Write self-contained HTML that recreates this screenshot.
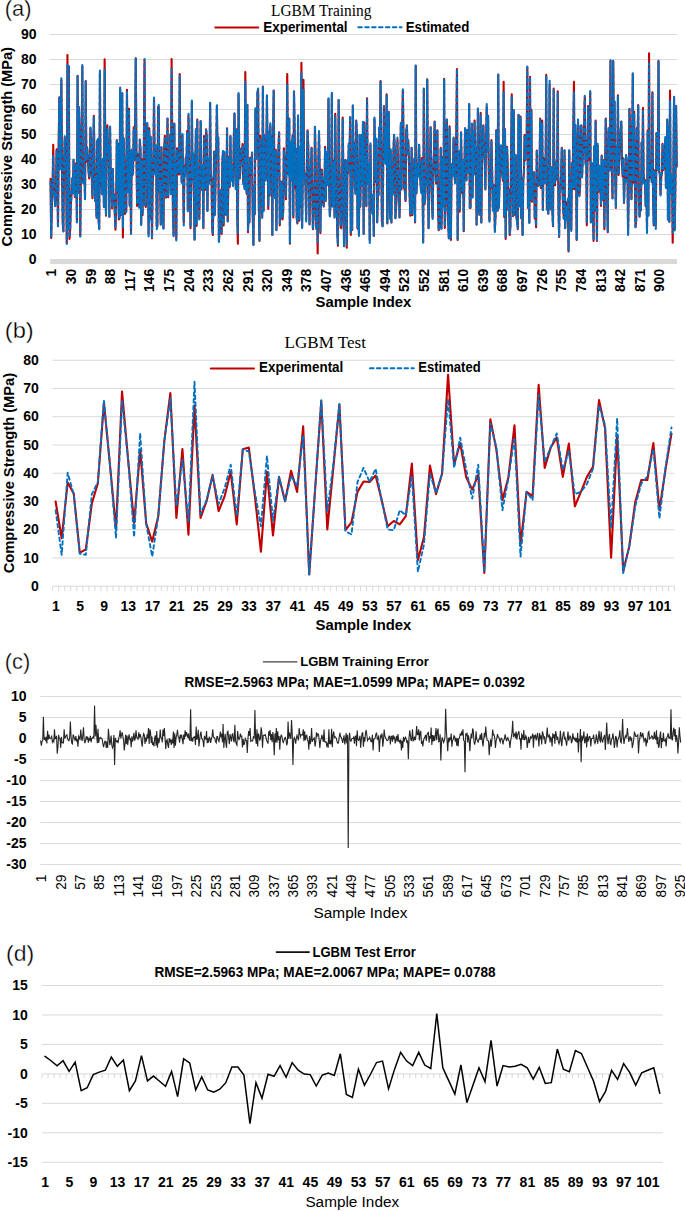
<!DOCTYPE html>
<html><head><meta charset="utf-8"><title>LGBM</title>
<style>html,body{margin:0;padding:0;background:#fff;width:685px;height:1211px;overflow:hidden}svg{display:block}</style>
</head><body>
<svg width="685" height="1211" viewBox="0 0 685 1211">
<rect width="685" height="1211" fill="#fff"/>
<text x="4.80" y="15.70" font-family="'Liberation Sans', sans-serif" font-size="22" textLength="26.60" lengthAdjust="spacingAndGlyphs" fill="#000" stroke="#fff" stroke-width="0.3">(a)</text>
<text x="271.00" y="15.90" font-family="'Liberation Serif', serif" font-size="16.0" textLength="100.40" lengthAdjust="spacingAndGlyphs" fill="#000">LGBM Training</text>
<path d="M215.30 27.40 L258.20 27.40" fill="none" stroke="#C00000" stroke-width="2" stroke-linecap="round" stroke-linejoin="round"/>
<text x="263.30" y="31.70" font-family="'Liberation Sans', sans-serif" font-size="14" font-weight="bold" textLength="84.30" lengthAdjust="spacingAndGlyphs" fill="#000">Experimental</text>
<path d="M358.30 27.30 L401.60 27.30" fill="none" stroke="#0070C0" stroke-width="1.9" stroke-linecap="round" stroke-linejoin="round" stroke-dasharray="3.6 3.3"/>
<text x="405.70" y="31.70" font-family="'Liberation Sans', sans-serif" font-size="14" font-weight="bold" textLength="63.60" lengthAdjust="spacingAndGlyphs" fill="#000">Estimated</text>
<line x1="50.20" y1="34.50" x2="677.10" y2="34.50" stroke="#D9D9D9" stroke-width="1"/>
<text x="36.60" y="39.20" font-family="'Liberation Sans', sans-serif" font-size="14" font-weight="bold" text-anchor="end" fill="#000">90</text>
<line x1="50.20" y1="59.50" x2="677.10" y2="59.50" stroke="#D9D9D9" stroke-width="1"/>
<text x="36.60" y="64.20" font-family="'Liberation Sans', sans-serif" font-size="14" font-weight="bold" text-anchor="end" fill="#000">80</text>
<line x1="50.20" y1="84.50" x2="677.10" y2="84.50" stroke="#D9D9D9" stroke-width="1"/>
<text x="36.60" y="89.20" font-family="'Liberation Sans', sans-serif" font-size="14" font-weight="bold" text-anchor="end" fill="#000">70</text>
<line x1="50.20" y1="109.50" x2="677.10" y2="109.50" stroke="#D9D9D9" stroke-width="1"/>
<text x="36.60" y="114.20" font-family="'Liberation Sans', sans-serif" font-size="14" font-weight="bold" text-anchor="end" fill="#000">60</text>
<line x1="50.20" y1="134.50" x2="677.10" y2="134.50" stroke="#D9D9D9" stroke-width="1"/>
<text x="36.60" y="139.20" font-family="'Liberation Sans', sans-serif" font-size="14" font-weight="bold" text-anchor="end" fill="#000">50</text>
<line x1="50.20" y1="159.50" x2="677.10" y2="159.50" stroke="#D9D9D9" stroke-width="1"/>
<text x="36.60" y="164.20" font-family="'Liberation Sans', sans-serif" font-size="14" font-weight="bold" text-anchor="end" fill="#000">40</text>
<line x1="50.20" y1="184.50" x2="677.10" y2="184.50" stroke="#D9D9D9" stroke-width="1"/>
<text x="36.60" y="189.20" font-family="'Liberation Sans', sans-serif" font-size="14" font-weight="bold" text-anchor="end" fill="#000">30</text>
<line x1="50.20" y1="209.50" x2="677.10" y2="209.50" stroke="#D9D9D9" stroke-width="1"/>
<text x="36.60" y="214.20" font-family="'Liberation Sans', sans-serif" font-size="14" font-weight="bold" text-anchor="end" fill="#000">20</text>
<line x1="50.20" y1="234.50" x2="677.10" y2="234.50" stroke="#D9D9D9" stroke-width="1"/>
<text x="36.60" y="239.20" font-family="'Liberation Sans', sans-serif" font-size="14" font-weight="bold" text-anchor="end" fill="#000">10</text>
<text x="36.60" y="264.20" font-family="'Liberation Sans', sans-serif" font-size="14" font-weight="bold" text-anchor="end" fill="#000">0</text>
<rect x="50.20" y="259" width="626.90" height="5" fill="#D9D9D9"/>
<text x="56.39" y="268.90" font-family="'Liberation Sans', sans-serif" font-size="13.8" font-weight="bold" text-anchor="end" transform="rotate(-90 56.39 268.90)" fill="#000">1</text>
<text x="76.00" y="268.90" font-family="'Liberation Sans', sans-serif" font-size="13.8" font-weight="bold" text-anchor="end" transform="rotate(-90 76.00 268.90)" fill="#000">30</text>
<text x="95.61" y="268.90" font-family="'Liberation Sans', sans-serif" font-size="13.8" font-weight="bold" text-anchor="end" transform="rotate(-90 95.61 268.90)" fill="#000">59</text>
<text x="115.22" y="268.90" font-family="'Liberation Sans', sans-serif" font-size="13.8" font-weight="bold" text-anchor="end" transform="rotate(-90 115.22 268.90)" fill="#000">88</text>
<text x="134.84" y="268.90" font-family="'Liberation Sans', sans-serif" font-size="13.8" font-weight="bold" text-anchor="end" transform="rotate(-90 134.84 268.90)" fill="#000">117</text>
<text x="154.45" y="268.90" font-family="'Liberation Sans', sans-serif" font-size="13.8" font-weight="bold" text-anchor="end" transform="rotate(-90 154.45 268.90)" fill="#000">146</text>
<text x="174.06" y="268.90" font-family="'Liberation Sans', sans-serif" font-size="13.8" font-weight="bold" text-anchor="end" transform="rotate(-90 174.06 268.90)" fill="#000">175</text>
<text x="193.67" y="268.90" font-family="'Liberation Sans', sans-serif" font-size="13.8" font-weight="bold" text-anchor="end" transform="rotate(-90 193.67 268.90)" fill="#000">204</text>
<text x="213.28" y="268.90" font-family="'Liberation Sans', sans-serif" font-size="13.8" font-weight="bold" text-anchor="end" transform="rotate(-90 213.28 268.90)" fill="#000">233</text>
<text x="232.89" y="268.90" font-family="'Liberation Sans', sans-serif" font-size="13.8" font-weight="bold" text-anchor="end" transform="rotate(-90 232.89 268.90)" fill="#000">262</text>
<text x="252.51" y="268.90" font-family="'Liberation Sans', sans-serif" font-size="13.8" font-weight="bold" text-anchor="end" transform="rotate(-90 252.51 268.90)" fill="#000">291</text>
<text x="272.12" y="268.90" font-family="'Liberation Sans', sans-serif" font-size="13.8" font-weight="bold" text-anchor="end" transform="rotate(-90 272.12 268.90)" fill="#000">320</text>
<text x="291.73" y="268.90" font-family="'Liberation Sans', sans-serif" font-size="13.8" font-weight="bold" text-anchor="end" transform="rotate(-90 291.73 268.90)" fill="#000">349</text>
<text x="311.34" y="268.90" font-family="'Liberation Sans', sans-serif" font-size="13.8" font-weight="bold" text-anchor="end" transform="rotate(-90 311.34 268.90)" fill="#000">378</text>
<text x="330.95" y="268.90" font-family="'Liberation Sans', sans-serif" font-size="13.8" font-weight="bold" text-anchor="end" transform="rotate(-90 330.95 268.90)" fill="#000">407</text>
<text x="350.56" y="268.90" font-family="'Liberation Sans', sans-serif" font-size="13.8" font-weight="bold" text-anchor="end" transform="rotate(-90 350.56 268.90)" fill="#000">436</text>
<text x="370.18" y="268.90" font-family="'Liberation Sans', sans-serif" font-size="13.8" font-weight="bold" text-anchor="end" transform="rotate(-90 370.18 268.90)" fill="#000">465</text>
<text x="389.79" y="268.90" font-family="'Liberation Sans', sans-serif" font-size="13.8" font-weight="bold" text-anchor="end" transform="rotate(-90 389.79 268.90)" fill="#000">494</text>
<text x="409.40" y="268.90" font-family="'Liberation Sans', sans-serif" font-size="13.8" font-weight="bold" text-anchor="end" transform="rotate(-90 409.40 268.90)" fill="#000">523</text>
<text x="429.01" y="268.90" font-family="'Liberation Sans', sans-serif" font-size="13.8" font-weight="bold" text-anchor="end" transform="rotate(-90 429.01 268.90)" fill="#000">552</text>
<text x="448.62" y="268.90" font-family="'Liberation Sans', sans-serif" font-size="13.8" font-weight="bold" text-anchor="end" transform="rotate(-90 448.62 268.90)" fill="#000">581</text>
<text x="468.24" y="268.90" font-family="'Liberation Sans', sans-serif" font-size="13.8" font-weight="bold" text-anchor="end" transform="rotate(-90 468.24 268.90)" fill="#000">610</text>
<text x="487.85" y="268.90" font-family="'Liberation Sans', sans-serif" font-size="13.8" font-weight="bold" text-anchor="end" transform="rotate(-90 487.85 268.90)" fill="#000">639</text>
<text x="507.46" y="268.90" font-family="'Liberation Sans', sans-serif" font-size="13.8" font-weight="bold" text-anchor="end" transform="rotate(-90 507.46 268.90)" fill="#000">668</text>
<text x="527.07" y="268.90" font-family="'Liberation Sans', sans-serif" font-size="13.8" font-weight="bold" text-anchor="end" transform="rotate(-90 527.07 268.90)" fill="#000">697</text>
<text x="546.68" y="268.90" font-family="'Liberation Sans', sans-serif" font-size="13.8" font-weight="bold" text-anchor="end" transform="rotate(-90 546.68 268.90)" fill="#000">726</text>
<text x="566.29" y="268.90" font-family="'Liberation Sans', sans-serif" font-size="13.8" font-weight="bold" text-anchor="end" transform="rotate(-90 566.29 268.90)" fill="#000">755</text>
<text x="585.91" y="268.90" font-family="'Liberation Sans', sans-serif" font-size="13.8" font-weight="bold" text-anchor="end" transform="rotate(-90 585.91 268.90)" fill="#000">784</text>
<text x="605.52" y="268.90" font-family="'Liberation Sans', sans-serif" font-size="13.8" font-weight="bold" text-anchor="end" transform="rotate(-90 605.52 268.90)" fill="#000">813</text>
<text x="625.13" y="268.90" font-family="'Liberation Sans', sans-serif" font-size="13.8" font-weight="bold" text-anchor="end" transform="rotate(-90 625.13 268.90)" fill="#000">842</text>
<text x="644.74" y="268.90" font-family="'Liberation Sans', sans-serif" font-size="13.8" font-weight="bold" text-anchor="end" transform="rotate(-90 644.74 268.90)" fill="#000">871</text>
<text x="664.35" y="268.90" font-family="'Liberation Sans', sans-serif" font-size="13.8" font-weight="bold" text-anchor="end" transform="rotate(-90 664.35 268.90)" fill="#000">900</text>
<text x="315.60" y="306.90" font-family="'Liberation Sans', sans-serif" font-size="15.3" font-weight="bold" textLength="95.80" lengthAdjust="spacingAndGlyphs" fill="#000">Sample Index</text>
<text x="12.50" y="146.80" font-family="'Liberation Sans', sans-serif" font-size="15.0" font-weight="bold" text-anchor="middle" textLength="199.50" lengthAdjust="spacingAndGlyphs" transform="rotate(-90 12.50 146.80)" fill="#000">Compressive Strength (MPa)</text>
<path d="M50.54 178.75 L51.21 237.95 L51.89 206.75 L52.57 187.93 L53.24 144.78 L53.92 195.10 L54.60 194.30 L55.27 206.18 L55.95 186.25 L56.62 149.30 L57.30 164.32 L57.98 226.30 L58.65 148.00 L59.33 97.22 L60.01 169.25 L60.68 165.68 L61.36 80.35 L62.03 171.85 L62.71 222.28 L63.39 231.15 L64.06 162.90 L64.74 138.00 L65.42 167.78 L66.09 166.40 L66.77 242.80 L67.44 55.12 L68.12 229.00 L68.80 66.18 L69.47 238.93 L70.15 230.50 L70.83 205.15 L71.50 194.10 L72.18 179.90 L72.85 193.20 L73.53 160.32 L74.21 180.38 L74.88 197.05 L75.56 167.95 L76.24 163.12 L76.91 221.45 L77.59 75.88 L78.27 192.70 L78.94 106.95 L79.62 130.97 L80.29 235.62 L80.97 161.97 L81.65 143.28 L82.32 66.18 L83.00 182.78 L83.68 181.75 L84.35 169.73 L85.03 198.18 L85.70 81.13 L86.38 161.75 L87.06 147.35 L87.73 154.82 L88.41 168.40 L89.09 178.43 L89.76 172.23 L90.44 128.30 L91.11 144.22 L91.79 177.82 L92.47 198.18 L93.14 158.22 L93.82 115.68 L94.50 159.38 L95.17 200.65 L95.85 175.90 L96.52 215.62 L97.20 140.90 L97.88 139.78 L98.55 220.68 L99.23 228.25 L99.91 73.35 L100.58 182.90 L101.26 176.60 L101.93 193.93 L102.61 160.05 L103.29 173.38 L103.96 207.00 L104.64 59.38 L105.32 150.03 L105.99 215.62 L106.67 153.40 L107.34 125.38 L108.02 154.82 L108.70 144.97 L109.37 216.60 L110.05 127.32 L110.73 170.57 L111.40 176.97 L112.08 208.28 L112.75 169.07 L113.43 196.47 L114.11 194.43 L114.78 213.20 L115.46 229.80 L116.14 206.90 L116.81 139.93 L117.49 192.10 L118.16 144.10 L118.84 219.53 L119.52 218.20 L120.19 89.47 L120.87 214.88 L121.55 171.18 L122.22 93.35 L122.90 237.57 L123.58 138.20 L124.25 159.12 L124.93 214.05 L125.60 211.75 L126.28 210.50 L126.96 89.85 L127.63 162.65 L128.31 191.53 L128.99 108.88 L129.66 205.60 L130.34 150.82 L131.01 233.68 L131.69 150.88 L132.37 175.12 L133.04 172.82 L133.72 127.32 L134.40 160.03 L135.07 131.43 L135.75 58.42 L136.42 151.88 L137.10 205.93 L137.78 154.10 L138.45 154.72 L139.13 205.68 L139.81 139.50 L140.48 148.38 L141.16 224.38 L141.83 159.20 L142.51 215.18 L143.19 184.93 L143.86 148.80 L144.54 60.35 L145.22 205.60 L145.89 206.90 L146.57 172.33 L147.24 123.43 L147.92 156.50 L148.60 234.07 L149.27 128.30 L149.95 218.07 L150.63 136.68 L151.30 164.88 L151.98 238.35 L152.65 184.72 L153.33 170.40 L154.01 98.20 L154.68 159.93 L155.36 173.50 L156.04 145.45 L156.71 226.30 L157.39 226.30 L158.06 106.95 L158.74 106.95 L159.42 191.32 L160.09 184.70 L160.77 224.38 L161.45 147.40 L162.12 174.17 L162.80 198.57 L163.47 228.25 L164.15 149.40 L164.83 135.88 L165.50 179.72 L166.18 197.60 L166.86 168.22 L167.53 118.57 L168.21 197.20 L168.88 164.75 L169.56 170.68 L170.24 135.05 L170.91 193.72 L171.59 59.00 L172.27 141.80 L172.94 211.30 L173.62 235.05 L174.30 123.43 L174.97 203.12 L175.65 162.60 L176.32 238.93 L177.00 148.40 L177.68 155.72 L178.35 169.60 L179.03 174.53 L179.71 73.95 L180.38 172.72 L181.06 160.72 L181.73 182.05 L182.41 135.07 L183.09 176.18 L183.76 222.43 L184.44 165.88 L185.12 176.00 L185.79 157.53 L186.47 159.62 L187.14 131.03 L187.82 209.80 L188.50 115.68 L189.17 163.02 L189.85 184.32 L190.53 228.25 L191.20 187.00 L191.88 102.07 L192.55 179.32 L193.23 153.85 L193.91 190.28 L194.58 239.50 L195.26 169.40 L195.94 129.38 L196.61 226.00 L197.29 119.55 L197.96 203.85 L198.64 169.22 L199.32 218.55 L199.99 165.40 L200.67 121.50 L201.35 172.35 L202.02 189.90 L202.70 167.55 L203.37 228.25 L204.05 136.05 L204.73 175.82 L205.40 189.75 L206.08 129.25 L206.76 135.55 L207.43 210.78 L208.11 160.80 L208.78 183.00 L209.46 173.85 L210.14 103.05 L210.81 180.55 L211.49 178.00 L212.17 227.30 L212.84 235.05 L213.52 193.70 L214.19 151.62 L214.87 214.05 L215.55 182.55 L216.22 153.40 L216.90 105.97 L217.58 156.18 L218.25 138.03 L218.93 240.88 L219.61 229.28 L220.28 190.75 L220.96 189.78 L221.63 234.07 L222.31 163.18 L222.99 151.28 L223.66 225.50 L224.34 152.68 L225.02 214.45 L225.69 163.50 L226.37 213.35 L227.04 128.30 L227.72 221.45 L228.40 177.07 L229.07 156.85 L229.75 187.05 L230.43 136.05 L231.10 180.18 L231.78 164.65 L232.45 179.12 L233.13 184.07 L233.81 138.85 L234.48 113.72 L235.16 150.68 L235.84 189.05 L236.51 129.20 L237.19 213.43 L237.86 243.78 L238.54 94.33 L239.22 151.72 L239.89 178.53 L240.57 164.75 L241.25 148.70 L241.92 155.22 L242.60 144.12 L243.27 182.62 L243.95 181.93 L244.63 187.90 L245.30 72.00 L245.98 152.72 L246.66 193.65 L247.33 105.00 L248.01 232.12 L248.68 208.32 L249.36 222.43 L250.04 157.78 L250.71 174.83 L251.39 163.68 L252.07 152.55 L252.74 214.57 L253.42 244.75 L254.09 186.35 L254.77 214.00 L255.45 109.85 L256.12 158.75 L256.80 135.22 L257.48 91.40 L258.15 91.40 L258.83 206.10 L259.50 240.88 L260.18 135.85 L260.86 150.50 L261.53 179.22 L262.21 216.55 L262.89 86.55 L263.56 210.78 L264.24 134.82 L264.91 168.35 L265.59 179.47 L266.27 157.03 L266.94 96.25 L267.62 156.55 L268.30 208.85 L268.97 133.30 L269.65 195.82 L270.33 125.38 L271.00 148.05 L271.68 136.93 L272.35 235.05 L273.03 138.57 L273.71 90.45 L274.38 183.25 L275.06 198.20 L275.74 149.72 L276.41 230.20 L277.09 174.35 L277.76 176.18 L278.44 147.80 L279.12 132.18 L279.79 225.35 L280.47 183.47 L281.15 218.22 L281.82 181.62 L282.50 219.53 L283.17 211.40 L283.85 148.30 L284.53 157.75 L285.20 175.05 L285.88 199.12 L286.56 164.43 L287.23 73.95 L287.91 151.47 L288.58 174.17 L289.26 118.57 L289.94 243.78 L290.61 142.72 L291.29 180.35 L291.97 148.25 L292.64 135.30 L293.32 217.57 L293.99 91.40 L294.67 131.75 L295.35 188.35 L296.02 150.30 L296.70 218.10 L297.38 223.40 L298.05 117.62 L298.73 201.70 L299.40 220.65 L300.08 146.78 L300.76 206.90 L301.43 62.87 L302.11 227.28 L302.79 175.03 L303.46 79.78 L304.14 178.20 L304.81 173.32 L305.49 186.57 L306.17 219.53 L306.84 169.73 L307.52 130.22 L308.20 144.05 L308.87 182.32 L309.55 224.38 L310.22 176.60 L310.90 169.78 L311.58 147.70 L312.25 193.18 L312.93 229.22 L313.61 216.47 L314.28 201.38 L314.96 126.72 L315.64 159.43 L316.31 228.80 L316.99 202.68 L317.66 253.47 L318.34 164.07 L319.02 133.15 L319.69 171.00 L320.37 233.10 L321.05 186.88 L321.72 169.43 L322.40 181.00 L323.07 203.25 L323.75 206.50 L324.43 189.22 L325.10 146.72 L325.78 201.07 L326.46 152.32 L327.13 177.15 L327.81 184.95 L328.48 99.18 L329.16 185.55 L329.84 215.62 L330.51 203.07 L331.19 169.12 L331.87 94.33 L332.54 205.93 L333.22 193.10 L333.89 160.62 L334.57 216.60 L335.25 113.72 L335.92 168.40 L336.60 198.15 L337.28 232.10 L337.95 245.72 L338.63 100.15 L339.30 159.93 L339.98 187.45 L340.66 227.05 L341.33 228.25 L342.01 202.45 L342.69 117.62 L343.36 173.97 L344.04 245.72 L344.71 194.85 L345.39 160.35 L346.07 161.25 L346.74 247.65 L347.42 163.53 L348.10 172.97 L348.77 144.93 L349.45 163.70 L350.12 117.62 L350.80 235.05 L351.48 166.88 L352.15 230.07 L352.83 105.97 L353.51 154.28 L354.18 142.68 L354.86 187.72 L355.53 193.53 L356.21 120.53 L356.89 134.32 L357.56 228.60 L358.24 169.75 L358.92 234.07 L359.59 134.93 L360.27 206.68 L360.94 164.32 L361.62 135.40 L362.30 185.70 L362.97 122.47 L363.65 234.07 L364.33 122.47 L365.00 165.07 L365.68 154.53 L366.36 206.28 L367.03 98.20 L367.71 183.20 L368.38 173.53 L369.06 164.68 L369.74 239.90 L370.41 144.78 L371.09 193.40 L371.77 195.25 L372.44 213.60 L373.12 195.68 L373.79 236.03 L374.47 119.18 L375.15 160.78 L375.82 181.97 L376.50 139.93 L377.18 222.43 L377.85 196.15 L378.53 194.70 L379.20 127.62 L379.88 144.60 L380.56 81.13 L381.23 157.88 L381.91 221.38 L382.59 226.30 L383.26 158.50 L383.94 105.97 L384.61 161.80 L385.29 130.70 L385.97 162.80 L386.64 94.33 L387.32 223.40 L388.00 174.93 L388.67 111.80 L389.35 159.95 L390.02 218.55 L390.70 151.03 L391.38 222.43 L392.05 170.62 L392.73 193.82 L393.41 152.50 L394.08 135.07 L394.76 146.00 L395.43 218.15 L396.11 207.43 L396.79 193.90 L397.46 139.93 L398.14 175.07 L398.82 175.55 L399.49 217.57 L400.17 183.47 L400.84 124.80 L401.52 189.38 L402.20 126.00 L402.87 90.45 L403.55 141.93 L404.23 188.38 L404.90 189.97 L405.58 201.07 L406.25 131.47 L406.93 125.38 L407.61 152.93 L408.28 141.07 L408.96 161.80 L409.64 194.20 L410.31 215.62 L410.99 179.05 L411.66 147.70 L412.34 215.18 L413.02 191.20 L413.69 173.20 L414.37 159.20 L415.05 222.43 L415.72 65.60 L416.40 193.40 L417.08 178.68 L417.75 164.03 L418.43 174.88 L419.10 144.78 L419.78 174.68 L420.46 181.10 L421.13 192.28 L421.81 158.10 L422.49 179.25 L423.16 241.82 L423.84 88.50 L424.51 204.28 L425.19 198.38 L425.87 179.60 L426.54 181.72 L427.22 79.18 L427.90 172.62 L428.57 228.25 L429.25 174.97 L429.92 171.08 L430.60 127.32 L431.28 180.50 L431.95 203.72 L432.63 217.57 L433.31 165.62 L433.98 151.28 L434.66 121.50 L435.33 167.33 L436.01 183.53 L436.69 170.72 L437.36 130.22 L438.04 206.47 L438.72 230.20 L439.39 226.15 L440.07 188.93 L440.74 147.70 L441.42 228.25 L442.10 202.65 L442.77 156.93 L443.45 206.80 L444.13 78.80 L444.80 227.93 L445.48 207.65 L446.15 135.10 L446.83 119.55 L447.51 193.55 L448.18 220.97 L448.86 237.95 L449.54 126.35 L450.21 204.35 L450.89 239.90 L451.56 165.75 L452.24 166.45 L452.92 175.60 L453.59 138.22 L454.27 160.45 L454.95 181.25 L455.62 163.60 L456.30 133.35 L456.97 69.10 L457.65 239.90 L458.33 152.88 L459.00 151.40 L459.68 211.60 L460.36 187.38 L461.03 132.18 L461.71 169.43 L462.39 193.15 L463.06 159.85 L463.74 231.15 L464.41 168.88 L465.09 128.30 L465.77 157.18 L466.44 180.00 L467.12 129.93 L467.80 139.85 L468.47 172.68 L469.15 104.03 L469.82 207.88 L470.50 207.88 L471.18 162.60 L471.85 124.40 L472.53 197.20 L473.21 131.97 L473.88 174.05 L474.56 120.53 L475.23 150.82 L475.91 148.22 L476.59 224.38 L477.26 172.35 L477.94 108.88 L478.62 197.82 L479.29 214.68 L479.97 165.50 L480.64 112.75 L481.32 222.43 L482.00 163.70 L482.67 146.88 L483.35 125.38 L484.03 149.82 L484.70 159.10 L485.38 189.43 L486.05 141.80 L486.73 106.95 L487.41 151.95 L488.08 115.68 L488.76 167.15 L489.44 220.47 L490.11 178.45 L490.79 187.50 L491.46 139.93 L492.14 171.53 L492.82 207.43 L493.49 198.95 L494.17 185.35 L494.85 230.20 L495.52 215.10 L496.20 130.22 L496.87 181.28 L497.55 210.65 L498.23 74.53 L498.90 206.90 L499.58 181.35 L500.26 162.72 L500.93 145.75 L501.61 166.43 L502.28 174.43 L502.96 180.82 L503.64 81.70 L504.31 217.25 L504.99 129.05 L505.67 238.93 L506.34 177.05 L507.02 146.72 L507.69 167.07 L508.37 209.75 L509.05 189.25 L509.72 235.05 L510.40 227.43 L511.08 155.55 L511.75 94.33 L512.43 149.55 L513.11 216.25 L513.78 110.82 L514.46 214.68 L515.13 171.43 L515.81 156.15 L516.49 218.07 L517.16 221.82 L517.84 229.22 L518.52 114.70 L519.19 206.45 L519.87 195.47 L520.54 116.65 L521.22 218.30 L521.90 182.12 L522.57 235.05 L523.25 179.45 L523.93 171.43 L524.60 135.07 L525.28 160.25 L525.95 136.12 L526.63 144.82 L527.31 67.52 L527.98 207.95 L528.66 186.35 L529.34 222.43 L530.01 76.85 L530.69 200.25 L531.36 109.85 L532.04 201.68 L532.72 179.27 L533.39 180.12 L534.07 172.57 L534.75 218.47 L535.42 212.75 L536.10 227.28 L536.77 150.60 L537.45 185.68 L538.13 185.88 L538.80 185.03 L539.48 176.43 L540.16 118.57 L540.83 187.95 L541.51 155.05 L542.18 120.53 L542.86 209.80 L543.54 158.30 L544.21 168.48 L544.89 181.93 L545.57 170.98 L546.24 74.90 L546.92 208.80 L547.59 190.40 L548.27 213.70 L548.95 168.15 L549.62 84.62 L550.30 207.70 L550.98 167.00 L551.65 169.20 L552.33 209.25 L553.00 226.30 L553.68 88.50 L554.36 182.82 L555.03 185.25 L555.71 164.93 L556.39 161.28 L557.06 179.72 L557.74 91.40 L558.42 204.10 L559.09 236.97 L559.77 186.38 L560.44 187.85 L561.12 173.62 L561.80 147.70 L562.47 187.88 L563.15 207.28 L563.83 218.62 L564.50 150.60 L565.18 228.25 L565.85 202.22 L566.53 212.18 L567.21 219.68 L567.88 199.60 L568.56 251.55 L569.24 150.60 L569.91 201.20 L570.59 181.47 L571.26 229.22 L571.94 163.00 L572.62 189.20 L573.29 128.75 L573.97 81.70 L574.65 189.15 L575.32 125.38 L576.00 156.28 L576.67 239.90 L577.35 177.18 L578.03 121.50 L578.70 146.97 L579.38 195.05 L580.06 187.50 L580.73 126.35 L581.41 125.38 L582.08 176.32 L582.76 157.00 L583.44 151.22 L584.11 125.97 L584.79 97.22 L585.47 162.50 L586.14 140.35 L586.82 225.35 L587.49 154.35 L588.17 105.97 L588.85 149.38 L589.52 160.35 L590.20 92.38 L590.88 222.43 L591.55 179.38 L592.23 163.85 L592.90 210.88 L593.58 240.88 L594.26 146.88 L594.93 210.27 L595.61 120.53 L596.29 178.90 L596.96 240.88 L597.64 145.80 L598.31 192.00 L598.99 185.75 L599.67 165.75 L600.34 183.47 L601.02 205.93 L601.70 155.47 L602.37 199.68 L603.05 188.28 L603.72 160.32 L604.40 229.22 L605.08 171.82 L605.75 118.57 L606.43 158.10 L607.11 198.80 L607.78 232.12 L608.46 129.28 L609.14 130.80 L609.81 169.73 L610.49 60.92 L611.16 159.07 L611.84 171.15 L612.52 198.18 L613.19 60.92 L613.87 132.90 L614.55 102.07 L615.22 178.90 L615.90 207.88 L616.57 147.07 L617.25 164.62 L617.93 95.30 L618.60 174.88 L619.28 159.35 L619.96 139.60 L620.63 132.07 L621.31 121.50 L621.98 162.20 L622.66 176.43 L623.34 158.30 L624.01 203.03 L624.69 180.20 L625.37 179.95 L626.04 155.47 L626.72 160.47 L627.39 162.23 L628.07 234.07 L628.75 190.20 L629.42 108.88 L630.10 126.32 L630.78 163.90 L631.45 199.12 L632.13 146.35 L632.80 73.95 L633.48 182.70 L634.16 111.80 L634.83 174.00 L635.51 227.28 L636.19 219.78 L636.86 127.95 L637.54 138.28 L638.21 105.00 L638.89 200.05 L639.57 216.60 L640.24 206.60 L640.92 210.53 L641.60 142.60 L642.27 183.78 L642.95 107.90 L643.62 175.18 L644.30 182.72 L644.98 180.10 L645.65 206.10 L646.33 181.25 L647.01 230.20 L647.68 130.22 L648.36 214.95 L649.03 53.18 L649.71 177.82 L650.39 167.50 L651.06 163.10 L651.74 181.20 L652.42 92.38 L653.09 198.10 L653.77 225.35 L654.45 170.22 L655.12 186.88 L655.80 225.35 L656.47 133.07 L657.15 151.30 L657.83 169.78 L658.50 60.92 L659.18 172.12 L659.86 173.78 L660.53 194.28 L661.21 177.18 L661.88 172.88 L662.56 143.82 L663.24 170.10 L663.91 165.80 L664.59 163.80 L665.27 139.60 L665.94 187.18 L666.62 172.38 L667.29 119.55 L667.97 219.53 L668.65 127.50 L669.32 221.70 L670.00 90.45 L670.68 192.80 L671.35 175.38 L672.03 176.22 L672.70 242.80 L673.38 169.00 L674.06 97.22 L674.73 229.22 L675.41 182.85 L676.09 105.97 L676.76 166.65" fill="none" stroke="#C00000" stroke-width="2.1" stroke-linecap="round" stroke-linejoin="round"/>
<path d="M50.54 181.45 L51.21 236.57 L51.89 207.15 L52.57 187.60 L53.24 154.78 L53.92 194.38 L54.60 193.65 L55.27 206.05 L55.95 186.72 L56.62 150.57 L57.30 164.57 L57.98 227.65 L58.65 148.53 L59.33 97.30 L60.01 168.92 L60.68 164.40 L61.36 78.32 L62.03 171.70 L62.71 222.00 L63.39 231.47 L64.06 163.25 L64.74 136.38 L65.42 166.82 L66.09 164.95 L66.77 243.97 L67.44 65.12 L68.12 229.07 L68.80 64.97 L69.47 237.28 L70.15 229.70 L70.83 204.95 L71.50 194.57 L72.18 177.95 L72.85 193.53 L73.53 159.17 L74.21 179.65 L74.88 196.55 L75.56 167.33 L76.24 163.60 L76.91 222.45 L77.59 76.20 L78.27 191.95 L78.94 107.38 L79.62 131.35 L80.29 236.60 L80.97 162.23 L81.65 141.20 L82.32 65.15 L83.00 182.20 L83.68 182.80 L84.35 169.47 L85.03 199.20 L85.70 81.40 L86.38 160.20 L87.06 147.32 L87.73 155.43 L88.41 168.83 L89.09 176.50 L89.76 172.65 L90.44 127.50 L91.11 141.55 L91.79 177.03 L92.47 195.65 L93.14 156.58 L93.82 117.35 L94.50 162.33 L95.17 201.88 L95.85 176.35 L96.52 217.88 L97.20 141.23 L97.88 138.47 L98.55 217.55 L99.23 229.28 L99.91 70.47 L100.58 179.27 L101.26 175.70 L101.93 193.93 L102.61 158.90 L103.29 174.57 L103.96 206.80 L104.64 69.38 L105.32 150.50 L105.99 214.82 L106.67 153.57 L107.34 128.18 L108.02 153.57 L108.70 145.10 L109.37 217.18 L110.05 126.58 L110.73 170.42 L111.40 174.78 L112.08 207.65 L112.75 169.05 L113.43 197.78 L114.11 195.53 L114.78 212.40 L115.46 228.35 L116.14 209.10 L116.81 140.95 L117.49 189.65 L118.16 143.60 L118.84 218.32 L119.52 217.38 L120.19 87.28 L120.87 214.28 L121.55 170.47 L122.22 93.00 L122.90 227.57 L123.58 138.43 L124.25 157.55 L124.93 211.82 L125.60 211.03 L126.28 211.88 L126.96 90.95 L127.63 161.85 L128.31 192.92 L128.99 109.35 L129.66 204.80 L130.34 151.30 L131.01 233.53 L131.69 149.43 L132.37 174.53 L133.04 172.97 L133.72 128.93 L134.40 158.68 L135.07 131.68 L135.75 58.40 L136.42 151.78 L137.10 204.35 L137.78 155.62 L138.45 156.30 L139.13 207.62 L139.81 140.05 L140.48 150.18 L141.16 225.00 L141.83 160.40 L142.51 214.72 L143.19 185.18 L143.86 148.35 L144.54 59.00 L145.22 205.03 L145.89 205.45 L146.57 170.90 L147.24 122.90 L147.92 155.70 L148.60 236.62 L149.27 130.50 L149.95 219.40 L150.63 137.62 L151.30 163.78 L151.98 238.68 L152.65 182.88 L153.33 169.57 L154.01 97.57 L154.68 159.43 L155.36 174.55 L156.04 144.43 L156.71 229.30 L157.39 225.62 L158.06 108.00 L158.74 104.92 L159.42 192.45 L160.09 183.12 L160.77 224.60 L161.45 147.38 L162.12 175.17 L162.80 199.32 L163.47 228.72 L164.15 149.18 L164.83 138.30 L165.50 179.12 L166.18 197.60 L166.86 167.60 L167.53 118.73 L168.21 195.97 L168.88 164.20 L169.56 171.28 L170.24 134.30 L170.91 194.28 L171.59 69.00 L172.27 143.55 L172.94 211.10 L173.62 237.22 L174.30 124.03 L174.97 202.93 L175.65 163.78 L176.32 240.38 L177.00 150.30 L177.68 157.45 L178.35 170.70 L179.03 173.02 L179.71 75.10 L180.38 172.60 L181.06 161.20 L181.73 183.62 L182.41 134.15 L183.09 177.82 L183.76 225.43 L184.44 166.55 L185.12 175.57 L185.79 159.22 L186.47 159.82 L187.14 132.32 L187.82 211.35 L188.50 113.75 L189.17 163.40 L189.85 182.38 L190.53 227.35 L191.20 187.75 L191.88 100.55 L192.55 178.40 L193.23 153.25 L193.91 190.65 L194.58 239.90 L195.26 169.93 L195.94 128.70 L196.61 225.03 L197.29 120.03 L197.96 202.72 L198.64 168.18 L199.32 219.40 L199.99 164.38 L200.67 120.32 L201.35 173.72 L202.02 189.80 L202.70 164.70 L203.37 227.25 L204.05 138.47 L204.73 179.35 L205.40 189.32 L206.08 130.10 L206.76 136.43 L207.43 211.12 L208.11 158.48 L208.78 184.22 L209.46 174.15 L210.14 102.70 L210.81 178.48 L211.49 177.15 L212.17 227.10 L212.84 234.70 L213.52 193.95 L214.19 151.10 L214.87 215.25 L215.55 183.30 L216.22 151.90 L216.90 105.18 L217.58 156.65 L218.25 137.28 L218.93 242.57 L219.61 228.55 L220.28 191.00 L220.96 190.50 L221.63 232.60 L222.31 164.70 L222.99 150.95 L223.66 224.55 L224.34 151.75 L225.02 212.28 L225.69 161.75 L226.37 215.18 L227.04 128.07 L227.72 221.05 L228.40 177.28 L229.07 157.53 L229.75 186.00 L230.43 135.72 L231.10 180.47 L231.78 165.88 L232.45 179.40 L233.13 186.10 L233.81 138.53 L234.48 113.25 L235.16 148.88 L235.84 188.95 L236.51 129.95 L237.19 213.05 L237.86 233.78 L238.54 93.05 L239.22 150.93 L239.89 177.90 L240.57 164.57 L241.25 150.00 L241.92 155.80 L242.60 145.22 L243.27 184.05 L243.95 181.30 L244.63 189.53 L245.30 82.00 L245.98 151.03 L246.66 192.82 L247.33 104.82 L248.01 230.15 L248.68 211.15 L249.36 222.30 L250.04 158.80 L250.71 173.25 L251.39 163.75 L252.07 152.82 L252.74 213.57 L253.42 245.00 L254.09 186.30 L254.77 214.40 L255.45 108.28 L256.12 159.32 L256.80 134.80 L257.48 90.28 L258.15 88.58 L258.83 205.80 L259.50 240.35 L260.18 138.75 L260.86 148.93 L261.53 181.03 L262.21 218.05 L262.89 87.00 L263.56 211.03 L264.24 135.38 L264.91 166.42 L265.59 181.18 L266.27 156.55 L266.94 95.25 L267.62 156.47 L268.30 205.35 L268.97 131.58 L269.65 194.28 L270.33 123.35 L271.00 148.70 L271.68 138.85 L272.35 235.00 L273.03 138.10 L273.71 90.77 L274.38 182.55 L275.06 198.30 L275.74 150.15 L276.41 229.85 L277.09 173.75 L277.76 176.18 L278.44 147.80 L279.12 132.95 L279.79 223.38 L280.47 182.00 L281.15 217.55 L281.82 182.15 L282.50 217.82 L283.17 212.82 L283.85 150.03 L284.53 156.75 L285.20 176.38 L285.88 196.43 L286.56 164.22 L287.23 83.95 L287.91 152.72 L288.58 175.15 L289.26 119.12 L289.94 242.95 L290.61 141.22 L291.29 180.78 L291.97 147.50 L292.64 136.05 L293.32 215.47 L293.99 91.83 L294.67 132.28 L295.35 185.40 L296.02 148.60 L296.70 217.10 L297.38 222.53 L298.05 115.35 L298.73 201.60 L299.40 219.12 L300.08 146.55 L300.76 204.47 L301.43 72.87 L302.11 228.03 L302.79 172.75 L303.46 89.78 L304.14 179.88 L304.81 174.20 L305.49 184.80 L306.17 222.18 L306.84 168.90 L307.52 131.25 L308.20 145.12 L308.87 181.80 L309.55 225.03 L310.22 173.03 L310.90 169.75 L311.58 147.78 L312.25 192.60 L312.93 229.25 L313.61 217.68 L314.28 202.43 L314.96 125.80 L315.64 160.28 L316.31 230.12 L316.99 202.68 L317.66 243.47 L318.34 160.88 L319.02 131.05 L319.69 171.33 L320.37 231.07 L321.05 187.80 L321.72 170.75 L322.40 179.62 L323.07 201.65 L323.75 206.10 L324.43 189.35 L325.10 147.60 L325.78 200.65 L326.46 152.22 L327.13 175.75 L327.81 185.15 L328.48 98.05 L329.16 186.65 L329.84 216.35 L330.51 200.88 L331.19 169.40 L331.87 92.80 L332.54 206.97 L333.22 191.65 L333.89 162.05 L334.57 217.77 L335.25 116.03 L335.92 168.65 L336.60 198.05 L337.28 233.47 L337.95 244.05 L338.63 99.95 L339.30 159.38 L339.98 187.22 L340.66 224.93 L341.33 226.00 L342.01 200.15 L342.69 119.30 L343.36 173.40 L344.04 246.35 L344.71 194.53 L345.39 159.90 L346.07 162.73 L346.74 244.60 L347.42 163.07 L348.10 171.82 L348.77 143.60 L349.45 161.53 L350.12 115.55 L350.80 233.40 L351.48 168.07 L352.15 229.05 L352.83 105.23 L353.51 153.90 L354.18 143.28 L354.86 188.85 L355.53 193.60 L356.21 120.37 L356.89 134.82 L357.56 227.45 L358.24 169.85 L358.92 236.03 L359.59 133.95 L360.27 205.45 L360.94 162.25 L361.62 135.30 L362.30 186.32 L362.97 121.78 L363.65 233.50 L364.33 123.78 L365.00 164.95 L365.68 155.22 L366.36 205.65 L367.03 99.65 L367.71 184.18 L368.38 173.18 L369.06 163.78 L369.74 242.93 L370.41 143.28 L371.09 192.05 L371.77 192.00 L372.44 214.30 L373.12 195.60 L373.79 235.78 L374.47 117.12 L375.15 160.65 L375.82 180.85 L376.50 138.32 L377.18 221.97 L377.85 196.40 L378.53 194.38 L379.20 126.85 L379.88 145.38 L380.56 81.28 L381.23 157.28 L381.91 221.95 L382.59 226.53 L383.26 159.50 L383.94 106.88 L384.61 162.58 L385.29 129.82 L385.97 164.30 L386.64 95.43 L387.32 222.60 L388.00 176.33 L388.67 111.78 L389.35 158.58 L390.02 218.38 L390.70 149.30 L391.38 223.70 L392.05 168.93 L392.73 195.50 L393.41 151.30 L394.08 134.78 L394.76 147.45 L395.43 218.45 L396.11 205.25 L396.79 193.60 L397.46 137.55 L398.14 175.78 L398.82 174.15 L399.49 217.32 L400.17 183.18 L400.84 122.80 L401.52 189.65 L402.20 128.07 L402.87 89.20 L403.55 141.07 L404.23 188.70 L404.90 191.35 L405.58 199.88 L406.25 131.60 L406.93 125.70 L407.61 154.10 L408.28 139.95 L408.96 164.73 L409.64 196.60 L410.31 213.82 L410.99 177.95 L411.66 148.03 L412.34 214.28 L413.02 190.45 L413.69 173.10 L414.37 158.18 L415.05 221.55 L415.72 65.75 L416.40 192.80 L417.08 179.03 L417.75 165.22 L418.43 176.15 L419.10 144.80 L419.78 177.10 L420.46 180.53 L421.13 193.28 L421.81 160.22 L422.49 179.40 L423.16 242.75 L423.84 87.82 L424.51 203.47 L425.19 198.53 L425.87 180.10 L426.54 182.10 L427.22 79.90 L427.90 172.92 L428.57 228.05 L429.25 174.15 L429.92 170.85 L430.60 127.30 L431.28 180.40 L431.95 202.30 L432.63 219.05 L433.31 166.90 L433.98 151.47 L434.66 120.85 L435.33 168.60 L436.01 183.18 L436.69 170.35 L437.36 130.88 L438.04 205.72 L438.72 230.30 L439.39 225.50 L440.07 189.60 L440.74 148.15 L441.42 229.07 L442.10 203.12 L442.77 157.28 L443.45 207.20 L444.13 79.72 L444.80 226.70 L445.48 206.15 L446.15 135.12 L446.83 119.70 L447.51 193.20 L448.18 222.75 L448.86 238.47 L449.54 127.83 L450.21 204.43 L450.89 238.18 L451.56 164.03 L452.24 167.72 L452.92 175.60 L453.59 137.60 L454.27 161.97 L454.95 183.30 L455.62 164.03 L456.30 134.88 L456.97 68.68 L457.65 238.70 L458.33 150.82 L459.00 152.68 L459.68 209.68 L460.36 186.85 L461.03 132.22 L461.71 170.10 L462.39 190.82 L463.06 159.53 L463.74 230.12 L464.41 170.60 L465.09 128.03 L465.77 156.32 L466.44 182.03 L467.12 130.07 L467.80 140.78 L468.47 173.03 L469.15 103.80 L469.82 208.73 L470.50 206.95 L471.18 160.88 L471.85 123.55 L472.53 197.92 L473.21 131.47 L473.88 175.30 L474.56 121.35 L475.23 151.05 L475.91 149.53 L476.59 224.80 L477.26 172.70 L477.94 108.50 L478.62 197.65 L479.29 214.55 L479.97 166.72 L480.64 114.62 L481.32 223.70 L482.00 163.95 L482.67 146.70 L483.35 125.65 L484.03 149.10 L484.70 159.05 L485.38 188.97 L486.05 141.72 L486.73 104.05 L487.41 151.90 L488.08 116.43 L488.76 165.82 L489.44 222.57 L490.11 178.60 L490.79 186.78 L491.46 141.60 L492.14 170.35 L492.82 210.65 L493.49 198.05 L494.17 186.45 L494.85 231.90 L495.52 215.90 L496.20 130.35 L496.87 180.40 L497.55 210.45 L498.23 74.75 L498.90 208.05 L499.58 178.65 L500.26 163.43 L500.93 144.35 L501.61 165.65 L502.28 174.27 L502.96 180.03 L503.64 91.70 L504.31 215.25 L504.99 129.57 L505.67 237.68 L506.34 176.58 L507.02 146.60 L507.69 165.35 L508.37 210.23 L509.05 191.78 L509.72 234.22 L510.40 226.30 L511.08 157.33 L511.75 96.30 L512.43 147.05 L513.11 215.77 L513.78 109.80 L514.46 214.82 L515.13 171.28 L515.81 154.90 L516.49 217.50 L517.16 223.12 L517.84 228.05 L518.52 114.93 L519.19 207.18 L519.87 197.50 L520.54 117.12 L521.22 218.55 L521.90 180.95 L522.57 235.32 L523.25 181.02 L523.93 171.95 L524.60 136.52 L525.28 159.65 L525.95 137.03 L526.63 144.47 L527.31 66.65 L527.98 207.15 L528.66 187.75 L529.34 223.10 L530.01 76.60 L530.69 199.90 L531.36 110.78 L532.04 201.10 L532.72 180.60 L533.39 180.47 L534.07 171.85 L534.75 218.22 L535.42 211.45 L536.10 225.95 L536.77 149.95 L537.45 185.05 L538.13 185.40 L538.80 184.07 L539.48 175.57 L540.16 118.93 L540.83 186.30 L541.51 151.97 L542.18 122.55 L542.86 209.90 L543.54 158.50 L544.21 169.85 L544.89 183.25 L545.57 172.68 L546.24 76.00 L546.92 209.70 L547.59 190.95 L548.27 213.53 L548.95 167.97 L549.62 80.25 L550.30 209.65 L550.98 166.82 L551.65 167.97 L552.33 210.60 L553.00 225.43 L553.68 88.93 L554.36 181.75 L555.03 183.82 L555.71 166.25 L556.39 161.40 L557.06 177.80 L557.74 92.18 L558.42 205.15 L559.09 236.60 L559.77 187.20 L560.44 189.40 L561.12 175.00 L561.80 148.43 L562.47 188.78 L563.15 209.22 L563.83 218.85 L564.50 150.25 L565.18 227.90 L565.85 206.10 L566.53 210.93 L567.21 219.68 L567.88 197.32 L568.56 251.47 L569.24 150.35 L569.91 201.07 L570.59 182.38 L571.26 231.00 L571.94 163.25 L572.62 188.20 L573.29 128.10 L573.97 91.70 L574.65 188.22 L575.32 125.25 L576.00 156.88 L576.67 240.12 L577.35 179.60 L578.03 119.45 L578.70 147.10 L579.38 196.30 L580.06 186.12 L580.73 124.25 L581.41 127.88 L582.08 177.45 L582.76 157.62 L583.44 152.65 L584.11 124.72 L584.79 95.80 L585.47 164.38 L586.14 140.45 L586.82 223.35 L587.49 154.15 L588.17 107.85 L588.85 148.05 L589.52 158.38 L590.20 89.50 L590.88 222.20 L591.55 179.22 L592.23 163.00 L592.90 210.15 L593.58 240.47 L594.26 146.05 L594.93 209.52 L595.61 121.68 L596.29 178.88 L596.96 241.47 L597.64 143.50 L598.31 190.82 L598.99 186.95 L599.67 165.88 L600.34 184.68 L601.02 204.10 L601.70 156.20 L602.37 198.93 L603.05 188.22 L603.72 159.43 L604.40 228.00 L605.08 170.47 L605.75 118.35 L606.43 159.32 L607.11 197.45 L607.78 231.35 L608.46 128.03 L609.14 129.72 L609.81 170.50 L610.49 60.35 L611.16 157.88 L611.84 171.95 L612.52 198.55 L613.19 61.30 L613.87 133.03 L614.55 101.30 L615.22 179.85 L615.90 207.07 L616.57 147.30 L617.25 164.78 L617.93 96.65 L618.60 174.62 L619.28 160.30 L619.96 137.47 L620.63 132.18 L621.31 121.70 L621.98 162.28 L622.66 173.93 L623.34 159.15 L624.01 202.22 L624.69 179.32 L625.37 181.80 L626.04 155.15 L626.72 161.57 L627.39 160.10 L628.07 234.88 L628.75 190.40 L629.42 109.20 L630.10 125.12 L630.78 164.30 L631.45 198.85 L632.13 147.95 L632.80 73.30 L633.48 180.70 L634.16 113.05 L634.83 172.65 L635.51 226.97 L636.19 220.65 L636.86 129.95 L637.54 138.93 L638.21 105.85 L638.89 200.25 L639.57 216.72 L640.24 206.50 L640.92 210.88 L641.60 141.47 L642.27 184.00 L642.95 109.28 L643.62 175.33 L644.30 182.53 L644.98 180.97 L645.65 205.03 L646.33 180.97 L647.01 232.93 L647.68 131.20 L648.36 215.85 L649.03 63.18 L649.71 176.93 L650.39 166.10 L651.06 163.12 L651.74 182.75 L652.42 92.28 L653.09 199.10 L653.77 224.97 L654.45 170.32 L655.12 187.32 L655.80 228.90 L656.47 133.22 L657.15 150.18 L657.83 170.90 L658.50 60.90 L659.18 172.77 L659.86 172.90 L660.53 195.35 L661.21 176.32 L661.88 173.35 L662.56 143.32 L663.24 169.20 L663.91 166.50 L664.59 164.30 L665.27 137.15 L665.94 188.03 L666.62 173.35 L667.29 119.78 L667.97 219.93 L668.65 127.83 L669.32 222.05 L670.00 100.45 L670.68 194.05 L671.35 176.88 L672.03 175.20 L672.70 232.80 L673.38 167.88 L674.06 96.68 L674.73 230.38 L675.41 182.88 L676.09 106.23 L676.76 166.20" fill="none" stroke="#0070C0" stroke-width="2.1" stroke-linecap="round" stroke-linejoin="round" stroke-dasharray="3.6 3.3"/>
<text x="4.80" y="337.50" font-family="'Liberation Sans', sans-serif" font-size="22" textLength="28.90" lengthAdjust="spacingAndGlyphs" fill="#000" stroke="#fff" stroke-width="0.3">(b)</text>
<text x="284.60" y="347.50" font-family="'Liberation Serif', serif" font-size="17.2" textLength="81.40" lengthAdjust="spacingAndGlyphs" fill="#000">LGBM Test</text>
<path d="M210.90 368.40 L254.00 368.40" fill="none" stroke="#C00000" stroke-width="2" stroke-linecap="round" stroke-linejoin="round"/>
<text x="259.10" y="372.00" font-family="'Liberation Sans', sans-serif" font-size="14" font-weight="bold" textLength="84.20" lengthAdjust="spacingAndGlyphs" fill="#000">Experimental</text>
<path d="M370.00 368.30 L413.80 368.30" fill="none" stroke="#0070C0" stroke-width="1.9" stroke-linecap="round" stroke-linejoin="round" stroke-dasharray="3.6 3.3"/>
<text x="418.30" y="372.00" font-family="'Liberation Sans', sans-serif" font-size="14" font-weight="bold" textLength="62.30" lengthAdjust="spacingAndGlyphs" fill="#000">Estimated</text>
<line x1="52.60" y1="360.28" x2="674.50" y2="360.28" stroke="#D9D9D9" stroke-width="1"/>
<text x="38.80" y="364.98" font-family="'Liberation Sans', sans-serif" font-size="14" font-weight="bold" text-anchor="end" fill="#000">80</text>
<line x1="52.60" y1="388.52" x2="674.50" y2="388.52" stroke="#D9D9D9" stroke-width="1"/>
<text x="38.80" y="393.22" font-family="'Liberation Sans', sans-serif" font-size="14" font-weight="bold" text-anchor="end" fill="#000">70</text>
<line x1="52.60" y1="416.76" x2="674.50" y2="416.76" stroke="#D9D9D9" stroke-width="1"/>
<text x="38.80" y="421.46" font-family="'Liberation Sans', sans-serif" font-size="14" font-weight="bold" text-anchor="end" fill="#000">60</text>
<line x1="52.60" y1="445.00" x2="674.50" y2="445.00" stroke="#D9D9D9" stroke-width="1"/>
<text x="38.80" y="449.70" font-family="'Liberation Sans', sans-serif" font-size="14" font-weight="bold" text-anchor="end" fill="#000">50</text>
<line x1="52.60" y1="473.24" x2="674.50" y2="473.24" stroke="#D9D9D9" stroke-width="1"/>
<text x="38.80" y="477.94" font-family="'Liberation Sans', sans-serif" font-size="14" font-weight="bold" text-anchor="end" fill="#000">40</text>
<line x1="52.60" y1="501.48" x2="674.50" y2="501.48" stroke="#D9D9D9" stroke-width="1"/>
<text x="38.80" y="506.18" font-family="'Liberation Sans', sans-serif" font-size="14" font-weight="bold" text-anchor="end" fill="#000">30</text>
<line x1="52.60" y1="529.72" x2="674.50" y2="529.72" stroke="#D9D9D9" stroke-width="1"/>
<text x="38.80" y="534.42" font-family="'Liberation Sans', sans-serif" font-size="14" font-weight="bold" text-anchor="end" fill="#000">20</text>
<line x1="52.60" y1="557.96" x2="674.50" y2="557.96" stroke="#D9D9D9" stroke-width="1"/>
<text x="38.80" y="562.66" font-family="'Liberation Sans', sans-serif" font-size="14" font-weight="bold" text-anchor="end" fill="#000">10</text>
<line x1="52.60" y1="586.20" x2="674.50" y2="586.20" stroke="#D9D9D9" stroke-width="1"/>
<text x="38.80" y="590.90" font-family="'Liberation Sans', sans-serif" font-size="14" font-weight="bold" text-anchor="end" fill="#000">0</text>
<line x1="52.60" y1="586.20" x2="52.60" y2="591.20" stroke="#D9D9D9" stroke-width="1"/>
<line x1="58.64" y1="586.20" x2="58.64" y2="591.20" stroke="#D9D9D9" stroke-width="1"/>
<line x1="64.68" y1="586.20" x2="64.68" y2="591.20" stroke="#D9D9D9" stroke-width="1"/>
<line x1="70.71" y1="586.20" x2="70.71" y2="591.20" stroke="#D9D9D9" stroke-width="1"/>
<line x1="76.75" y1="586.20" x2="76.75" y2="591.20" stroke="#D9D9D9" stroke-width="1"/>
<line x1="82.79" y1="586.20" x2="82.79" y2="591.20" stroke="#D9D9D9" stroke-width="1"/>
<line x1="88.83" y1="586.20" x2="88.83" y2="591.20" stroke="#D9D9D9" stroke-width="1"/>
<line x1="94.87" y1="586.20" x2="94.87" y2="591.20" stroke="#D9D9D9" stroke-width="1"/>
<line x1="100.90" y1="586.20" x2="100.90" y2="591.20" stroke="#D9D9D9" stroke-width="1"/>
<line x1="106.94" y1="586.20" x2="106.94" y2="591.20" stroke="#D9D9D9" stroke-width="1"/>
<line x1="112.98" y1="586.20" x2="112.98" y2="591.20" stroke="#D9D9D9" stroke-width="1"/>
<line x1="119.02" y1="586.20" x2="119.02" y2="591.20" stroke="#D9D9D9" stroke-width="1"/>
<line x1="125.05" y1="586.20" x2="125.05" y2="591.20" stroke="#D9D9D9" stroke-width="1"/>
<line x1="131.09" y1="586.20" x2="131.09" y2="591.20" stroke="#D9D9D9" stroke-width="1"/>
<line x1="137.13" y1="586.20" x2="137.13" y2="591.20" stroke="#D9D9D9" stroke-width="1"/>
<line x1="143.17" y1="586.20" x2="143.17" y2="591.20" stroke="#D9D9D9" stroke-width="1"/>
<line x1="149.21" y1="586.20" x2="149.21" y2="591.20" stroke="#D9D9D9" stroke-width="1"/>
<line x1="155.24" y1="586.20" x2="155.24" y2="591.20" stroke="#D9D9D9" stroke-width="1"/>
<line x1="161.28" y1="586.20" x2="161.28" y2="591.20" stroke="#D9D9D9" stroke-width="1"/>
<line x1="167.32" y1="586.20" x2="167.32" y2="591.20" stroke="#D9D9D9" stroke-width="1"/>
<line x1="173.36" y1="586.20" x2="173.36" y2="591.20" stroke="#D9D9D9" stroke-width="1"/>
<line x1="179.40" y1="586.20" x2="179.40" y2="591.20" stroke="#D9D9D9" stroke-width="1"/>
<line x1="185.43" y1="586.20" x2="185.43" y2="591.20" stroke="#D9D9D9" stroke-width="1"/>
<line x1="191.47" y1="586.20" x2="191.47" y2="591.20" stroke="#D9D9D9" stroke-width="1"/>
<line x1="197.51" y1="586.20" x2="197.51" y2="591.20" stroke="#D9D9D9" stroke-width="1"/>
<line x1="203.55" y1="586.20" x2="203.55" y2="591.20" stroke="#D9D9D9" stroke-width="1"/>
<line x1="209.58" y1="586.20" x2="209.58" y2="591.20" stroke="#D9D9D9" stroke-width="1"/>
<line x1="215.62" y1="586.20" x2="215.62" y2="591.20" stroke="#D9D9D9" stroke-width="1"/>
<line x1="221.66" y1="586.20" x2="221.66" y2="591.20" stroke="#D9D9D9" stroke-width="1"/>
<line x1="227.70" y1="586.20" x2="227.70" y2="591.20" stroke="#D9D9D9" stroke-width="1"/>
<line x1="233.74" y1="586.20" x2="233.74" y2="591.20" stroke="#D9D9D9" stroke-width="1"/>
<line x1="239.77" y1="586.20" x2="239.77" y2="591.20" stroke="#D9D9D9" stroke-width="1"/>
<line x1="245.81" y1="586.20" x2="245.81" y2="591.20" stroke="#D9D9D9" stroke-width="1"/>
<line x1="251.85" y1="586.20" x2="251.85" y2="591.20" stroke="#D9D9D9" stroke-width="1"/>
<line x1="257.89" y1="586.20" x2="257.89" y2="591.20" stroke="#D9D9D9" stroke-width="1"/>
<line x1="263.93" y1="586.20" x2="263.93" y2="591.20" stroke="#D9D9D9" stroke-width="1"/>
<line x1="269.96" y1="586.20" x2="269.96" y2="591.20" stroke="#D9D9D9" stroke-width="1"/>
<line x1="276.00" y1="586.20" x2="276.00" y2="591.20" stroke="#D9D9D9" stroke-width="1"/>
<line x1="282.04" y1="586.20" x2="282.04" y2="591.20" stroke="#D9D9D9" stroke-width="1"/>
<line x1="288.08" y1="586.20" x2="288.08" y2="591.20" stroke="#D9D9D9" stroke-width="1"/>
<line x1="294.11" y1="586.20" x2="294.11" y2="591.20" stroke="#D9D9D9" stroke-width="1"/>
<line x1="300.15" y1="586.20" x2="300.15" y2="591.20" stroke="#D9D9D9" stroke-width="1"/>
<line x1="306.19" y1="586.20" x2="306.19" y2="591.20" stroke="#D9D9D9" stroke-width="1"/>
<line x1="312.23" y1="586.20" x2="312.23" y2="591.20" stroke="#D9D9D9" stroke-width="1"/>
<line x1="318.27" y1="586.20" x2="318.27" y2="591.20" stroke="#D9D9D9" stroke-width="1"/>
<line x1="324.30" y1="586.20" x2="324.30" y2="591.20" stroke="#D9D9D9" stroke-width="1"/>
<line x1="330.34" y1="586.20" x2="330.34" y2="591.20" stroke="#D9D9D9" stroke-width="1"/>
<line x1="336.38" y1="586.20" x2="336.38" y2="591.20" stroke="#D9D9D9" stroke-width="1"/>
<line x1="342.42" y1="586.20" x2="342.42" y2="591.20" stroke="#D9D9D9" stroke-width="1"/>
<line x1="348.46" y1="586.20" x2="348.46" y2="591.20" stroke="#D9D9D9" stroke-width="1"/>
<line x1="354.49" y1="586.20" x2="354.49" y2="591.20" stroke="#D9D9D9" stroke-width="1"/>
<line x1="360.53" y1="586.20" x2="360.53" y2="591.20" stroke="#D9D9D9" stroke-width="1"/>
<line x1="366.57" y1="586.20" x2="366.57" y2="591.20" stroke="#D9D9D9" stroke-width="1"/>
<line x1="372.61" y1="586.20" x2="372.61" y2="591.20" stroke="#D9D9D9" stroke-width="1"/>
<line x1="378.64" y1="586.20" x2="378.64" y2="591.20" stroke="#D9D9D9" stroke-width="1"/>
<line x1="384.68" y1="586.20" x2="384.68" y2="591.20" stroke="#D9D9D9" stroke-width="1"/>
<line x1="390.72" y1="586.20" x2="390.72" y2="591.20" stroke="#D9D9D9" stroke-width="1"/>
<line x1="396.76" y1="586.20" x2="396.76" y2="591.20" stroke="#D9D9D9" stroke-width="1"/>
<line x1="402.80" y1="586.20" x2="402.80" y2="591.20" stroke="#D9D9D9" stroke-width="1"/>
<line x1="408.83" y1="586.20" x2="408.83" y2="591.20" stroke="#D9D9D9" stroke-width="1"/>
<line x1="414.87" y1="586.20" x2="414.87" y2="591.20" stroke="#D9D9D9" stroke-width="1"/>
<line x1="420.91" y1="586.20" x2="420.91" y2="591.20" stroke="#D9D9D9" stroke-width="1"/>
<line x1="426.95" y1="586.20" x2="426.95" y2="591.20" stroke="#D9D9D9" stroke-width="1"/>
<line x1="432.99" y1="586.20" x2="432.99" y2="591.20" stroke="#D9D9D9" stroke-width="1"/>
<line x1="439.02" y1="586.20" x2="439.02" y2="591.20" stroke="#D9D9D9" stroke-width="1"/>
<line x1="445.06" y1="586.20" x2="445.06" y2="591.20" stroke="#D9D9D9" stroke-width="1"/>
<line x1="451.10" y1="586.20" x2="451.10" y2="591.20" stroke="#D9D9D9" stroke-width="1"/>
<line x1="457.14" y1="586.20" x2="457.14" y2="591.20" stroke="#D9D9D9" stroke-width="1"/>
<line x1="463.17" y1="586.20" x2="463.17" y2="591.20" stroke="#D9D9D9" stroke-width="1"/>
<line x1="469.21" y1="586.20" x2="469.21" y2="591.20" stroke="#D9D9D9" stroke-width="1"/>
<line x1="475.25" y1="586.20" x2="475.25" y2="591.20" stroke="#D9D9D9" stroke-width="1"/>
<line x1="481.29" y1="586.20" x2="481.29" y2="591.20" stroke="#D9D9D9" stroke-width="1"/>
<line x1="487.33" y1="586.20" x2="487.33" y2="591.20" stroke="#D9D9D9" stroke-width="1"/>
<line x1="493.36" y1="586.20" x2="493.36" y2="591.20" stroke="#D9D9D9" stroke-width="1"/>
<line x1="499.40" y1="586.20" x2="499.40" y2="591.20" stroke="#D9D9D9" stroke-width="1"/>
<line x1="505.44" y1="586.20" x2="505.44" y2="591.20" stroke="#D9D9D9" stroke-width="1"/>
<line x1="511.48" y1="586.20" x2="511.48" y2="591.20" stroke="#D9D9D9" stroke-width="1"/>
<line x1="517.52" y1="586.20" x2="517.52" y2="591.20" stroke="#D9D9D9" stroke-width="1"/>
<line x1="523.55" y1="586.20" x2="523.55" y2="591.20" stroke="#D9D9D9" stroke-width="1"/>
<line x1="529.59" y1="586.20" x2="529.59" y2="591.20" stroke="#D9D9D9" stroke-width="1"/>
<line x1="535.63" y1="586.20" x2="535.63" y2="591.20" stroke="#D9D9D9" stroke-width="1"/>
<line x1="541.67" y1="586.20" x2="541.67" y2="591.20" stroke="#D9D9D9" stroke-width="1"/>
<line x1="547.70" y1="586.20" x2="547.70" y2="591.20" stroke="#D9D9D9" stroke-width="1"/>
<line x1="553.74" y1="586.20" x2="553.74" y2="591.20" stroke="#D9D9D9" stroke-width="1"/>
<line x1="559.78" y1="586.20" x2="559.78" y2="591.20" stroke="#D9D9D9" stroke-width="1"/>
<line x1="565.82" y1="586.20" x2="565.82" y2="591.20" stroke="#D9D9D9" stroke-width="1"/>
<line x1="571.86" y1="586.20" x2="571.86" y2="591.20" stroke="#D9D9D9" stroke-width="1"/>
<line x1="577.89" y1="586.20" x2="577.89" y2="591.20" stroke="#D9D9D9" stroke-width="1"/>
<line x1="583.93" y1="586.20" x2="583.93" y2="591.20" stroke="#D9D9D9" stroke-width="1"/>
<line x1="589.97" y1="586.20" x2="589.97" y2="591.20" stroke="#D9D9D9" stroke-width="1"/>
<line x1="596.01" y1="586.20" x2="596.01" y2="591.20" stroke="#D9D9D9" stroke-width="1"/>
<line x1="602.05" y1="586.20" x2="602.05" y2="591.20" stroke="#D9D9D9" stroke-width="1"/>
<line x1="608.08" y1="586.20" x2="608.08" y2="591.20" stroke="#D9D9D9" stroke-width="1"/>
<line x1="614.12" y1="586.20" x2="614.12" y2="591.20" stroke="#D9D9D9" stroke-width="1"/>
<line x1="620.16" y1="586.20" x2="620.16" y2="591.20" stroke="#D9D9D9" stroke-width="1"/>
<line x1="626.20" y1="586.20" x2="626.20" y2="591.20" stroke="#D9D9D9" stroke-width="1"/>
<line x1="632.23" y1="586.20" x2="632.23" y2="591.20" stroke="#D9D9D9" stroke-width="1"/>
<line x1="638.27" y1="586.20" x2="638.27" y2="591.20" stroke="#D9D9D9" stroke-width="1"/>
<line x1="644.31" y1="586.20" x2="644.31" y2="591.20" stroke="#D9D9D9" stroke-width="1"/>
<line x1="650.35" y1="586.20" x2="650.35" y2="591.20" stroke="#D9D9D9" stroke-width="1"/>
<line x1="656.39" y1="586.20" x2="656.39" y2="591.20" stroke="#D9D9D9" stroke-width="1"/>
<line x1="662.42" y1="586.20" x2="662.42" y2="591.20" stroke="#D9D9D9" stroke-width="1"/>
<line x1="668.46" y1="586.20" x2="668.46" y2="591.20" stroke="#D9D9D9" stroke-width="1"/>
<line x1="674.50" y1="586.20" x2="674.50" y2="591.20" stroke="#D9D9D9" stroke-width="1"/>
<text x="55.92" y="610.80" font-family="'Liberation Sans', sans-serif" font-size="14" font-weight="bold" text-anchor="middle" fill="#000">1</text>
<text x="80.07" y="610.80" font-family="'Liberation Sans', sans-serif" font-size="14" font-weight="bold" text-anchor="middle" fill="#000">5</text>
<text x="104.22" y="610.80" font-family="'Liberation Sans', sans-serif" font-size="14" font-weight="bold" text-anchor="middle" fill="#000">9</text>
<text x="128.37" y="610.80" font-family="'Liberation Sans', sans-serif" font-size="14" font-weight="bold" text-anchor="middle" fill="#000">13</text>
<text x="152.52" y="610.80" font-family="'Liberation Sans', sans-serif" font-size="14" font-weight="bold" text-anchor="middle" fill="#000">17</text>
<text x="176.68" y="610.80" font-family="'Liberation Sans', sans-serif" font-size="14" font-weight="bold" text-anchor="middle" fill="#000">21</text>
<text x="200.83" y="610.80" font-family="'Liberation Sans', sans-serif" font-size="14" font-weight="bold" text-anchor="middle" fill="#000">25</text>
<text x="224.98" y="610.80" font-family="'Liberation Sans', sans-serif" font-size="14" font-weight="bold" text-anchor="middle" fill="#000">29</text>
<text x="249.13" y="610.80" font-family="'Liberation Sans', sans-serif" font-size="14" font-weight="bold" text-anchor="middle" fill="#000">33</text>
<text x="273.28" y="610.80" font-family="'Liberation Sans', sans-serif" font-size="14" font-weight="bold" text-anchor="middle" fill="#000">37</text>
<text x="297.43" y="610.80" font-family="'Liberation Sans', sans-serif" font-size="14" font-weight="bold" text-anchor="middle" fill="#000">41</text>
<text x="321.58" y="610.80" font-family="'Liberation Sans', sans-serif" font-size="14" font-weight="bold" text-anchor="middle" fill="#000">45</text>
<text x="345.74" y="610.80" font-family="'Liberation Sans', sans-serif" font-size="14" font-weight="bold" text-anchor="middle" fill="#000">49</text>
<text x="369.89" y="610.80" font-family="'Liberation Sans', sans-serif" font-size="14" font-weight="bold" text-anchor="middle" fill="#000">53</text>
<text x="394.04" y="610.80" font-family="'Liberation Sans', sans-serif" font-size="14" font-weight="bold" text-anchor="middle" fill="#000">57</text>
<text x="418.19" y="610.80" font-family="'Liberation Sans', sans-serif" font-size="14" font-weight="bold" text-anchor="middle" fill="#000">61</text>
<text x="442.34" y="610.80" font-family="'Liberation Sans', sans-serif" font-size="14" font-weight="bold" text-anchor="middle" fill="#000">65</text>
<text x="466.49" y="610.80" font-family="'Liberation Sans', sans-serif" font-size="14" font-weight="bold" text-anchor="middle" fill="#000">69</text>
<text x="490.65" y="610.80" font-family="'Liberation Sans', sans-serif" font-size="14" font-weight="bold" text-anchor="middle" fill="#000">73</text>
<text x="514.80" y="610.80" font-family="'Liberation Sans', sans-serif" font-size="14" font-weight="bold" text-anchor="middle" fill="#000">77</text>
<text x="538.95" y="610.80" font-family="'Liberation Sans', sans-serif" font-size="14" font-weight="bold" text-anchor="middle" fill="#000">81</text>
<text x="563.10" y="610.80" font-family="'Liberation Sans', sans-serif" font-size="14" font-weight="bold" text-anchor="middle" fill="#000">85</text>
<text x="587.25" y="610.80" font-family="'Liberation Sans', sans-serif" font-size="14" font-weight="bold" text-anchor="middle" fill="#000">89</text>
<text x="611.40" y="610.80" font-family="'Liberation Sans', sans-serif" font-size="14" font-weight="bold" text-anchor="middle" fill="#000">93</text>
<text x="635.55" y="610.80" font-family="'Liberation Sans', sans-serif" font-size="14" font-weight="bold" text-anchor="middle" fill="#000">97</text>
<text x="659.71" y="610.80" font-family="'Liberation Sans', sans-serif" font-size="14" font-weight="bold" text-anchor="middle" fill="#000">101</text>
<text x="315.60" y="629.60" font-family="'Liberation Sans', sans-serif" font-size="15.5" font-weight="bold" textLength="95.80" lengthAdjust="spacingAndGlyphs" fill="#000">Sample Index</text>
<text x="13.80" y="473.10" font-family="'Liberation Sans', sans-serif" font-size="15.0" font-weight="bold" text-anchor="middle" textLength="200.50" lengthAdjust="spacingAndGlyphs" transform="rotate(-90 13.80 473.10)" fill="#000">Compressive Strength (MPa)</text>
<path d="M55.62 501.48 L61.66 538.19 L67.69 482.56 L73.73 493.57 L79.77 552.59 L85.81 549.49 L91.85 503.46 L97.88 483.12 L103.92 402.92 L109.96 464.77 L116.00 528.87 L122.04 391.63 L128.07 459.12 L134.11 522.94 L140.15 449.80 L146.19 523.22 L152.22 541.58 L158.26 516.16 L164.30 441.33 L170.34 393.04 L176.38 517.86 L182.41 448.95 L188.45 534.80 L194.49 405.18 L200.53 517.86 L206.57 501.20 L212.60 474.93 L218.64 511.08 L224.68 496.11 L230.72 471.83 L236.75 524.35 L242.79 449.24 L248.83 447.54 L254.87 496.11 L260.91 551.75 L266.94 471.83 L272.98 535.37 L279.02 476.91 L285.06 501.20 L291.10 470.70 L297.13 491.88 L303.17 426.36 L309.21 574.34 L315.25 487.36 L321.28 400.95 L327.32 529.44 L333.36 467.59 L339.40 404.62 L345.44 530.00 L351.47 522.38 L357.51 491.88 L363.55 481.43 L369.59 481.99 L375.63 475.50 L381.66 500.07 L387.70 526.33 L393.74 520.97 L399.78 524.35 L405.82 516.16 L411.85 463.64 L417.89 560.22 L423.93 537.34 L429.97 465.62 L436.00 494.14 L442.04 473.80 L448.08 374.68 L454.12 464.77 L460.16 443.02 L466.19 477.19 L472.23 489.62 L478.27 474.65 L484.31 572.93 L490.35 419.30 L496.38 449.52 L502.42 500.07 L508.46 476.91 L514.50 425.23 L520.53 544.69 L526.57 491.88 L532.61 496.11 L538.65 384.85 L544.69 467.87 L550.72 447.54 L556.76 437.38 L562.80 476.91 L568.84 443.59 L574.88 506.28 L580.91 491.88 L586.95 476.91 L592.99 466.74 L599.03 400.10 L605.06 428.34 L611.10 557.68 L617.14 435.40 L623.18 570.95 L629.22 546.66 L635.25 502.04 L641.29 480.02 L647.33 480.02 L653.37 443.02 L659.41 510.23 L665.44 469.85 L671.48 433.70" fill="none" stroke="#C00000" stroke-width="2.1" stroke-linecap="round" stroke-linejoin="round"/>
<path d="M55.62 510.23 L61.66 554.85 L67.69 472.68 L73.73 494.70 L79.77 553.72 L85.81 554.85 L91.85 494.14 L97.88 481.99 L103.92 400.38 L109.96 464.77 L116.00 537.91 L122.04 400.38 L128.07 459.12 L134.11 537.06 L140.15 433.14 L146.19 524.07 L152.22 556.55 L158.26 516.16 L164.30 441.33 L170.34 398.12 L176.38 506.28 L182.41 459.68 L188.45 522.38 L194.49 381.74 L200.53 514.19 L206.57 500.07 L212.60 475.78 L218.64 504.02 L224.68 487.92 L230.72 464.77 L236.75 516.16 L242.79 449.52 L248.83 451.50 L254.87 491.88 L260.91 526.33 L266.94 455.73 L272.98 520.40 L279.02 476.91 L285.06 501.20 L291.10 475.78 L297.13 485.95 L303.17 435.40 L309.21 574.34 L315.25 487.36 L321.28 400.10 L327.32 511.36 L333.36 463.64 L339.40 404.05 L345.44 531.13 L351.47 534.52 L357.51 481.99 L363.55 467.87 L369.59 481.99 L375.63 468.72 L381.66 500.07 L387.70 529.44 L393.74 530.28 L399.78 510.23 L405.82 515.32 L411.85 475.78 L417.89 571.80 L423.93 544.69 L429.97 473.80 L436.00 493.01 L442.04 473.80 L448.08 398.97 L454.12 467.87 L460.16 437.66 L466.19 469.29 L472.23 498.66 L478.27 464.77 L484.31 572.08 L490.35 423.26 L496.38 447.54 L502.42 510.23 L508.46 477.76 L514.50 437.38 L520.53 556.55 L526.57 491.88 L532.61 500.07 L538.65 395.02 L544.69 461.66 L550.72 447.54 L556.76 433.42 L562.80 469.85 L568.84 451.50 L574.88 494.14 L580.91 491.88 L586.95 483.97 L592.99 468.72 L599.03 405.46 L605.06 425.23 L611.10 528.31 L617.14 418.17 L623.18 572.93 L629.22 546.66 L635.25 506.28 L641.29 483.41 L647.33 476.63 L653.37 448.95 L659.41 518.42 L665.44 468.16 L671.48 427.49" fill="none" stroke="#0070C0" stroke-width="1.9" stroke-linecap="round" stroke-linejoin="round" stroke-dasharray="3.6 3.3"/>
<text x="4.80" y="668.50" font-family="'Liberation Sans', sans-serif" font-size="22" textLength="25.40" lengthAdjust="spacingAndGlyphs" fill="#000" stroke="#fff" stroke-width="0.3">(c)</text>
<path d="M263.40 661.80 L297.00 661.80" fill="none" stroke="#404040" stroke-width="1.3" stroke-linecap="round" stroke-linejoin="round"/>
<text x="300.20" y="666.00" font-family="'Liberation Sans', sans-serif" font-size="13.5" font-weight="bold" textLength="128.60" lengthAdjust="spacingAndGlyphs" fill="#000">LGBM Training Error</text>
<text x="184.50" y="686.50" font-family="'Liberation Sans', sans-serif" font-size="14.3" font-weight="bold" textLength="340.30" lengthAdjust="spacingAndGlyphs" fill="#000">RMSE=2.5963 MPa; MAE=1.0599 MPa; MAPE= 0.0392</text>
<line x1="40.30" y1="696.60" x2="681.00" y2="696.60" stroke="#D9D9D9" stroke-width="1"/>
<text x="26.50" y="701.30" font-family="'Liberation Sans', sans-serif" font-size="14" font-weight="bold" text-anchor="end" fill="#000">10</text>
<line x1="40.30" y1="717.60" x2="681.00" y2="717.60" stroke="#D9D9D9" stroke-width="1"/>
<text x="26.50" y="722.30" font-family="'Liberation Sans', sans-serif" font-size="14" font-weight="bold" text-anchor="end" fill="#000">5</text>
<line x1="40.30" y1="738.60" x2="681.00" y2="738.60" stroke="#D9D9D9" stroke-width="1"/>
<text x="26.50" y="743.30" font-family="'Liberation Sans', sans-serif" font-size="14" font-weight="bold" text-anchor="end" fill="#000">0</text>
<line x1="40.30" y1="759.60" x2="681.00" y2="759.60" stroke="#D9D9D9" stroke-width="1"/>
<text x="26.50" y="764.30" font-family="'Liberation Sans', sans-serif" font-size="14" font-weight="bold" text-anchor="end" fill="#000">-5</text>
<line x1="40.30" y1="780.60" x2="681.00" y2="780.60" stroke="#D9D9D9" stroke-width="1"/>
<text x="26.50" y="785.30" font-family="'Liberation Sans', sans-serif" font-size="14" font-weight="bold" text-anchor="end" fill="#000">-10</text>
<line x1="40.30" y1="801.60" x2="681.00" y2="801.60" stroke="#D9D9D9" stroke-width="1"/>
<text x="26.50" y="806.30" font-family="'Liberation Sans', sans-serif" font-size="14" font-weight="bold" text-anchor="end" fill="#000">-15</text>
<line x1="40.30" y1="822.60" x2="681.00" y2="822.60" stroke="#D9D9D9" stroke-width="1"/>
<text x="26.50" y="827.30" font-family="'Liberation Sans', sans-serif" font-size="14" font-weight="bold" text-anchor="end" fill="#000">-20</text>
<line x1="40.30" y1="843.60" x2="681.00" y2="843.60" stroke="#D9D9D9" stroke-width="1"/>
<text x="26.50" y="848.30" font-family="'Liberation Sans', sans-serif" font-size="14" font-weight="bold" text-anchor="end" fill="#000">-25</text>
<line x1="40.30" y1="864.60" x2="681.00" y2="864.60" stroke="#D9D9D9" stroke-width="1"/>
<text x="26.50" y="869.30" font-family="'Liberation Sans', sans-serif" font-size="14" font-weight="bold" text-anchor="end" fill="#000">-30</text>
<text x="46.35" y="874.50" font-family="'Liberation Sans', sans-serif" font-size="13.8" text-anchor="end" transform="rotate(-90 46.35 874.50)" fill="#000">1</text>
<text x="65.70" y="874.50" font-family="'Liberation Sans', sans-serif" font-size="13.8" text-anchor="end" transform="rotate(-90 65.70 874.50)" fill="#000">29</text>
<text x="85.05" y="874.50" font-family="'Liberation Sans', sans-serif" font-size="13.8" text-anchor="end" transform="rotate(-90 85.05 874.50)" fill="#000">57</text>
<text x="104.40" y="874.50" font-family="'Liberation Sans', sans-serif" font-size="13.8" text-anchor="end" transform="rotate(-90 104.40 874.50)" fill="#000">85</text>
<text x="123.75" y="874.50" font-family="'Liberation Sans', sans-serif" font-size="13.8" text-anchor="end" transform="rotate(-90 123.75 874.50)" fill="#000">113</text>
<text x="143.11" y="874.50" font-family="'Liberation Sans', sans-serif" font-size="13.8" text-anchor="end" transform="rotate(-90 143.11 874.50)" fill="#000">141</text>
<text x="162.46" y="874.50" font-family="'Liberation Sans', sans-serif" font-size="13.8" text-anchor="end" transform="rotate(-90 162.46 874.50)" fill="#000">169</text>
<text x="181.81" y="874.50" font-family="'Liberation Sans', sans-serif" font-size="13.8" text-anchor="end" transform="rotate(-90 181.81 874.50)" fill="#000">197</text>
<text x="201.16" y="874.50" font-family="'Liberation Sans', sans-serif" font-size="13.8" text-anchor="end" transform="rotate(-90 201.16 874.50)" fill="#000">225</text>
<text x="220.52" y="874.50" font-family="'Liberation Sans', sans-serif" font-size="13.8" text-anchor="end" transform="rotate(-90 220.52 874.50)" fill="#000">253</text>
<text x="239.87" y="874.50" font-family="'Liberation Sans', sans-serif" font-size="13.8" text-anchor="end" transform="rotate(-90 239.87 874.50)" fill="#000">281</text>
<text x="259.22" y="874.50" font-family="'Liberation Sans', sans-serif" font-size="13.8" text-anchor="end" transform="rotate(-90 259.22 874.50)" fill="#000">309</text>
<text x="278.57" y="874.50" font-family="'Liberation Sans', sans-serif" font-size="13.8" text-anchor="end" transform="rotate(-90 278.57 874.50)" fill="#000">337</text>
<text x="297.93" y="874.50" font-family="'Liberation Sans', sans-serif" font-size="13.8" text-anchor="end" transform="rotate(-90 297.93 874.50)" fill="#000">365</text>
<text x="317.28" y="874.50" font-family="'Liberation Sans', sans-serif" font-size="13.8" text-anchor="end" transform="rotate(-90 317.28 874.50)" fill="#000">393</text>
<text x="336.63" y="874.50" font-family="'Liberation Sans', sans-serif" font-size="13.8" text-anchor="end" transform="rotate(-90 336.63 874.50)" fill="#000">421</text>
<text x="355.98" y="874.50" font-family="'Liberation Sans', sans-serif" font-size="13.8" text-anchor="end" transform="rotate(-90 355.98 874.50)" fill="#000">449</text>
<text x="375.34" y="874.50" font-family="'Liberation Sans', sans-serif" font-size="13.8" text-anchor="end" transform="rotate(-90 375.34 874.50)" fill="#000">477</text>
<text x="394.69" y="874.50" font-family="'Liberation Sans', sans-serif" font-size="13.8" text-anchor="end" transform="rotate(-90 394.69 874.50)" fill="#000">505</text>
<text x="414.04" y="874.50" font-family="'Liberation Sans', sans-serif" font-size="13.8" text-anchor="end" transform="rotate(-90 414.04 874.50)" fill="#000">533</text>
<text x="433.39" y="874.50" font-family="'Liberation Sans', sans-serif" font-size="13.8" text-anchor="end" transform="rotate(-90 433.39 874.50)" fill="#000">561</text>
<text x="452.74" y="874.50" font-family="'Liberation Sans', sans-serif" font-size="13.8" text-anchor="end" transform="rotate(-90 452.74 874.50)" fill="#000">589</text>
<text x="472.10" y="874.50" font-family="'Liberation Sans', sans-serif" font-size="13.8" text-anchor="end" transform="rotate(-90 472.10 874.50)" fill="#000">617</text>
<text x="491.45" y="874.50" font-family="'Liberation Sans', sans-serif" font-size="13.8" text-anchor="end" transform="rotate(-90 491.45 874.50)" fill="#000">645</text>
<text x="510.80" y="874.50" font-family="'Liberation Sans', sans-serif" font-size="13.8" text-anchor="end" transform="rotate(-90 510.80 874.50)" fill="#000">673</text>
<text x="530.15" y="874.50" font-family="'Liberation Sans', sans-serif" font-size="13.8" text-anchor="end" transform="rotate(-90 530.15 874.50)" fill="#000">701</text>
<text x="549.51" y="874.50" font-family="'Liberation Sans', sans-serif" font-size="13.8" text-anchor="end" transform="rotate(-90 549.51 874.50)" fill="#000">729</text>
<text x="568.86" y="874.50" font-family="'Liberation Sans', sans-serif" font-size="13.8" text-anchor="end" transform="rotate(-90 568.86 874.50)" fill="#000">757</text>
<text x="588.21" y="874.50" font-family="'Liberation Sans', sans-serif" font-size="13.8" text-anchor="end" transform="rotate(-90 588.21 874.50)" fill="#000">785</text>
<text x="607.56" y="874.50" font-family="'Liberation Sans', sans-serif" font-size="13.8" text-anchor="end" transform="rotate(-90 607.56 874.50)" fill="#000">813</text>
<text x="626.92" y="874.50" font-family="'Liberation Sans', sans-serif" font-size="13.8" text-anchor="end" transform="rotate(-90 626.92 874.50)" fill="#000">841</text>
<text x="646.27" y="874.50" font-family="'Liberation Sans', sans-serif" font-size="13.8" text-anchor="end" transform="rotate(-90 646.27 874.50)" fill="#000">869</text>
<text x="665.62" y="874.50" font-family="'Liberation Sans', sans-serif" font-size="13.8" text-anchor="end" transform="rotate(-90 665.62 874.50)" fill="#000">897</text>
<text x="684.97" y="874.50" font-family="'Liberation Sans', sans-serif" font-size="13.8" text-anchor="end" transform="rotate(-90 684.97 874.50)" fill="#000">925</text>
<text x="313.60" y="918.00" font-family="'Liberation Sans', sans-serif" font-size="15.2" textLength="93.80" lengthAdjust="spacingAndGlyphs" fill="#000">Sample Index</text>
<path d="M40.65 740.70 L41.34 745.70 L42.03 741.41 L42.72 740.45 L43.41 716.80 L44.10 739.73 L44.79 738.22 L45.48 740.03 L46.17 736.71 L46.87 743.39 L47.56 730.83 L48.25 739.69 L48.94 734.48 L49.63 738.22 L50.32 738.56 L51.01 737.76 L51.70 736.37 L52.40 742.00 L53.09 740.53 L53.78 741.75 L54.47 729.36 L55.16 738.89 L55.85 738.26 L56.54 735.83 L57.23 753.68 L57.92 747.17 L58.62 734.78 L59.31 738.52 L60.00 738.68 L60.69 747.84 L61.38 736.84 L62.07 742.59 L62.76 742.84 L63.45 742.88 L64.14 729.36 L64.84 738.56 L65.53 737.05 L66.22 735.53 L66.91 734.74 L67.60 738.81 L68.29 740.36 L68.98 740.66 L69.67 737.51 L70.37 721.59 L71.06 737.09 L71.75 743.01 L72.44 743.81 L73.13 734.53 L73.82 736.29 L74.51 738.77 L75.20 740.78 L75.89 736.12 L76.59 740.78 L77.28 739.86 L77.97 746.75 L78.66 736.12 L79.35 737.17 L80.04 740.20 L80.73 729.61 L81.42 736.88 L82.11 740.91 L82.81 735.24 L83.50 727.22 L84.19 739.90 L84.88 743.14 L85.57 740.74 L86.26 736.21 L86.95 739.52 L87.64 736.58 L88.34 742.63 L89.03 738.85 L89.72 739.86 L90.41 735.83 L91.10 742.30 L91.79 738.31 L92.48 738.01 L93.17 736.67 L93.86 737.84 L94.56 705.59 L95.25 736.46 L95.94 724.82 L96.63 734.78 L97.32 743.22 L98.01 728.81 L98.70 742.88 L99.39 737.97 L100.08 738.39 L100.78 737.51 L101.47 738.77 L102.16 738.98 L102.85 743.35 L103.54 747.25 L104.23 743.85 L104.92 741.16 L105.61 741.37 L106.31 747.84 L107.00 741.46 L107.69 747.84 L108.38 728.81 L109.07 736.92 L109.76 745.07 L110.45 741.88 L111.14 735.62 L111.83 745.40 L112.53 747.84 L113.22 745.40 L113.91 735.07 L114.60 764.89 L115.29 737.84 L115.98 740.53 L116.67 741.71 L117.36 740.87 L118.05 743.22 L118.75 738.47 L119.44 735.74 L120.13 730.41 L120.82 738.39 L121.51 735.07 L122.20 732.22 L122.89 736.29 L123.58 740.49 L124.28 750.44 L124.97 744.10 L125.66 734.44 L126.35 744.02 L127.04 735.66 L127.73 744.98 L128.42 738.39 L129.11 734.40 L129.80 739.44 L130.50 738.98 L131.19 747.25 L131.88 736.29 L132.57 741.54 L133.26 738.43 L133.95 732.85 L134.64 740.66 L135.33 738.22 L136.02 730.33 L136.72 737.26 L137.41 738.43 L138.10 739.23 L138.79 732.34 L139.48 737.63 L140.17 734.06 L140.86 737.21 L141.55 742.04 L142.25 746.79 L142.94 737.42 L143.63 733.64 L144.32 734.99 L145.01 743.85 L145.70 737.68 L146.39 741.54 L147.08 734.32 L147.77 738.47 L148.47 728.02 L149.16 744.06 L149.85 729.36 L150.54 732.01 L151.23 743.09 L151.92 736.42 L152.61 744.86 L153.30 743.30 L153.99 746.33 L154.69 737.51 L155.38 735.32 L156.07 745.70 L156.76 730.96 L157.45 747.59 L158.14 737.84 L158.83 743.26 L159.52 739.90 L160.22 729.61 L160.91 737.47 L161.60 738.14 L162.29 742.46 L162.98 729.57 L163.67 736.25 L164.36 728.02 L165.05 738.18 L165.74 748.85 L166.44 740.41 L167.13 739.65 L167.82 744.94 L168.51 747.84 L169.20 738.22 L169.89 741.33 L170.58 739.36 L171.27 745.03 L171.96 739.52 L172.66 743.35 L173.35 731.42 L174.04 748.05 L174.73 733.39 L175.42 745.74 L176.11 737.34 L176.80 734.65 L177.49 729.86 L178.19 737.05 L178.88 737.26 L179.57 742.72 L180.26 734.78 L180.95 736.92 L181.64 734.78 L182.33 739.82 L183.02 744.27 L183.71 734.53 L184.41 739.48 L185.10 730.41 L185.79 736.58 L186.48 732.09 L187.17 734.36 L187.86 737.89 L188.55 733.52 L189.24 739.73 L189.93 740.36 L190.63 709.28 L191.32 741.16 L192.01 738.77 L192.70 741.62 L193.39 737.34 L194.08 737.38 L194.77 736.67 L195.46 745.03 L196.16 726.42 L196.85 739.82 L197.54 737.63 L198.23 729.70 L198.92 746.45 L199.61 740.49 L200.30 734.23 L200.99 731.59 L201.68 738.68 L202.38 738.98 L203.07 741.16 L203.76 747.08 L204.45 735.79 L205.14 738.85 L205.83 739.19 L206.52 731.12 L207.21 743.26 L207.90 738.39 L208.60 742.55 L209.29 737.17 L209.98 737.93 L210.67 742.93 L211.36 739.02 L212.05 736.75 L212.74 729.36 L213.43 737.00 L214.13 737.51 L214.82 738.31 L215.51 741.58 L216.20 742.72 L216.89 736.67 L217.58 736.67 L218.27 740.36 L218.96 741.58 L219.65 737.34 L220.35 731.54 L221.04 737.47 L221.73 733.69 L222.42 742.25 L223.11 724.03 L223.80 747.84 L224.49 739.02 L225.18 733.90 L225.87 743.39 L226.57 747.84 L227.26 732.09 L227.95 731.21 L228.64 737.97 L229.33 744.27 L230.02 734.11 L230.71 737.30 L231.40 741.54 L232.10 734.82 L232.79 733.94 L233.48 740.28 L234.17 742.34 L234.86 724.82 L235.55 740.36 L236.24 743.93 L236.93 745.24 L237.62 731.12 L238.32 737.51 L239.01 739.48 L239.70 737.97 L240.39 733.64 L241.08 736.50 L241.77 736.21 L242.46 747.38 L243.15 739.02 L243.84 745.03 L244.54 743.26 L245.23 738.56 L245.92 740.24 L246.61 740.62 L247.30 752.88 L247.99 738.22 L248.68 731.04 L249.37 735.70 L250.07 728.02 L250.76 741.20 L251.45 740.45 L252.14 741.16 L252.83 740.24 L253.52 736.08 L254.21 738.39 L254.90 709.91 L255.59 738.52 L256.29 744.02 L256.98 729.36 L257.67 746.45 L258.36 733.52 L259.05 735.66 L259.74 740.57 L260.43 738.35 L261.12 727.22 L261.81 731.96 L262.51 747.84 L263.20 735.62 L263.89 735.07 L264.58 735.49 L265.27 734.69 L265.96 737.30 L266.65 740.45 L267.34 741.83 L268.04 743.68 L268.73 731.21 L269.42 735.79 L270.11 730.12 L270.80 740.20 L271.49 734.02 L272.18 742.25 L272.87 732.05 L273.56 739.27 L274.26 755.27 L274.95 733.56 L275.64 742.38 L276.33 728.02 L277.02 742.76 L277.71 731.21 L278.40 740.15 L279.09 736.12 L279.78 749.65 L280.48 737.59 L281.17 735.24 L281.86 736.08 L282.55 740.49 L283.24 742.42 L283.93 740.91 L284.62 738.31 L285.31 737.47 L286.01 739.73 L286.70 745.28 L287.39 742.63 L288.08 721.59 L288.77 738.89 L289.46 732.47 L290.15 735.62 L290.84 738.81 L291.53 719.99 L292.23 733.52 L292.92 764.89 L293.61 740.28 L294.30 737.63 L294.99 739.57 L295.68 743.68 L296.37 738.10 L297.06 735.24 L297.75 737.55 L298.45 740.41 L299.14 728.02 L299.83 733.52 L300.52 736.63 L301.21 734.57 L301.90 734.69 L302.59 735.03 L303.28 729.36 L303.98 741.33 L304.67 731.21 L305.36 740.20 L306.05 735.83 L306.74 735.32 L307.43 740.15 L308.12 740.78 L308.81 749.65 L309.50 736.04 L310.20 744.14 L310.89 740.95 L311.58 728.02 L312.27 741.75 L312.96 739.90 L313.65 738.81 L314.34 737.89 L315.03 746.58 L315.72 742.21 L316.42 732.30 L317.11 735.91 L317.80 733.81 L318.49 734.23 L319.18 739.86 L319.87 748.05 L320.56 740.87 L321.25 738.52 L321.95 734.74 L322.64 738.31 L323.33 741.96 L324.02 729.61 L324.71 741.58 L325.40 742.04 L326.09 741.75 L326.78 745.82 L327.47 743.93 L328.17 747.84 L328.86 729.36 L329.55 744.06 L330.24 740.11 L330.93 744.48 L331.62 728.81 L332.31 747.25 L333.00 735.24 L333.69 731.46 L334.39 737.47 L335.08 736.63 L335.77 737.47 L336.46 738.81 L337.15 742.09 L337.84 743.26 L338.53 742.88 L339.22 736.75 L339.92 732.85 L340.61 736.92 L341.30 737.26 L341.99 739.52 L342.68 743.01 L343.37 739.02 L344.06 735.32 L344.75 744.52 L345.44 740.45 L346.14 732.93 L346.83 743.43 L347.52 734.86 L348.21 848.09 L348.90 739.65 L349.59 732.89 L350.28 740.57 L350.97 741.29 L351.66 739.02 L352.36 738.56 L353.05 738.10 L353.74 737.05 L354.43 743.68 L355.12 736.96 L355.81 736.12 L356.50 746.33 L357.19 730.41 L357.89 739.40 L358.58 740.49 L359.27 739.27 L359.96 735.79 L360.65 747.84 L361.34 739.27 L362.03 733.31 L362.72 732.85 L363.41 746.83 L364.11 736.96 L364.80 741.79 L365.49 733.01 L366.18 729.99 L366.87 735.20 L367.56 740.53 L368.25 739.10 L368.94 739.10 L369.64 737.34 L370.33 739.27 L371.02 741.71 L371.71 741.54 L372.40 734.86 L373.09 750.44 L373.78 739.10 L374.47 739.02 L375.16 738.05 L375.86 734.27 L376.55 732.59 L377.24 738.94 L377.93 739.44 L378.62 735.45 L379.31 752.08 L380.00 740.36 L380.69 735.74 L381.38 736.92 L382.08 733.43 L382.77 746.71 L383.46 740.66 L384.15 729.61 L384.84 736.08 L385.53 737.59 L386.22 739.15 L386.91 740.66 L387.61 740.57 L388.30 739.40 L388.99 736.16 L389.68 736.21 L390.37 744.48 L391.06 736.84 L391.75 736.29 L392.44 741.58 L393.13 735.20 L393.83 738.26 L394.52 736.63 L395.21 743.39 L395.90 740.11 L396.59 735.91 L397.28 741.50 L397.97 734.06 L398.66 741.04 L399.35 740.66 L400.05 743.47 L400.74 739.52 L401.43 750.44 L402.12 740.87 L402.81 747.84 L403.50 736.75 L404.19 741.71 L404.88 738.14 L405.58 737.26 L406.27 739.57 L406.96 743.22 L407.65 740.28 L408.34 759.26 L409.03 737.97 L409.72 730.41 L410.41 735.11 L411.10 740.99 L411.80 739.27 L412.49 729.36 L413.18 740.83 L413.87 740.28 L414.56 736.63 L415.25 740.11 L415.94 735.87 L416.63 725.92 L417.32 734.69 L418.02 734.40 L418.71 729.36 L419.40 740.36 L420.09 732.85 L420.78 731.00 L421.47 743.68 L422.16 741.92 L422.85 746.45 L423.55 740.45 L424.24 738.22 L424.93 736.71 L425.62 734.99 L426.31 740.99 L427.00 734.40 L427.69 733.39 L428.38 731.88 L429.07 742.59 L429.77 736.12 L430.46 738.52 L431.15 727.55 L431.84 744.90 L432.53 735.16 L433.22 741.33 L433.91 735.20 L434.60 740.91 L435.29 736.16 L435.99 728.02 L436.68 740.28 L437.37 731.42 L438.06 728.52 L438.75 741.79 L439.44 741.08 L440.13 734.36 L440.82 760.57 L441.52 742.34 L442.21 737.30 L442.90 739.99 L443.59 742.46 L444.28 740.53 L444.97 737.09 L445.66 708.78 L446.35 730.70 L447.04 740.28 L447.74 751.28 L448.43 737.80 L449.12 742.25 L449.81 737.34 L450.50 740.03 L451.19 733.64 L451.88 746.62 L452.57 740.53 L453.26 739.52 L453.96 735.74 L454.65 736.42 L455.34 741.71 L456.03 737.80 L456.72 745.66 L457.41 738.22 L458.10 746.41 L458.79 738.47 L459.49 737.84 L460.18 734.19 L460.87 735.11 L461.56 732.55 L462.25 735.32 L462.94 729.36 L463.63 740.07 L464.32 741.25 L465.01 772.12 L465.71 734.36 L466.40 735.24 L467.09 732.72 L467.78 742.46 L468.47 735.24 L469.16 739.99 L469.85 751.28 L470.54 740.45 L471.23 733.64 L471.93 738.14 L472.62 728.52 L473.31 730.58 L474.00 742.25 L474.69 744.52 L475.38 741.04 L476.07 731.29 L476.76 739.52 L477.46 740.41 L478.15 742.67 L478.84 739.31 L479.53 739.15 L480.22 734.57 L480.91 739.82 L481.60 733.10 L482.29 740.66 L482.98 746.45 L483.68 739.65 L484.37 732.68 L485.06 737.34 L485.75 726.42 L486.44 735.03 L487.13 740.28 L487.82 740.53 L488.51 741.12 L489.20 755.27 L489.90 745.03 L490.59 739.27 L491.28 746.79 L491.97 739.65 L492.66 729.61 L493.35 734.82 L494.04 734.65 L494.73 737.76 L495.43 747.84 L496.12 740.95 L496.81 738.43 L497.50 734.19 L498.19 736.96 L498.88 737.13 L499.57 740.11 L500.26 742.17 L500.95 738.52 L501.65 738.22 L502.34 740.62 L503.03 744.31 L503.72 740.20 L504.41 738.98 L505.10 734.44 L505.79 737.68 L506.48 741.20 L507.17 739.02 L507.87 737.72 L508.56 740.45 L509.25 740.91 L509.94 747.84 L510.63 741.29 L511.32 736.88 L512.01 732.47 L512.70 720.79 L513.40 736.96 L514.09 734.90 L514.78 733.85 L515.47 738.18 L516.16 731.54 L516.85 739.65 L517.54 735.24 L518.23 732.89 L518.92 731.21 L519.62 738.81 L520.31 738.68 L521.00 749.65 L521.69 734.36 L522.38 735.70 L523.07 739.90 L523.76 730.12 L524.45 739.78 L525.14 739.23 L525.84 735.74 L526.53 737.51 L527.22 747.84 L527.91 742.38 L528.60 736.79 L529.29 743.05 L529.98 739.82 L530.67 736.84 L531.37 737.93 L532.06 736.37 L532.75 733.64 L533.44 747.84 L534.13 735.11 L534.82 737.09 L535.51 735.45 L536.20 740.36 L536.89 736.54 L537.59 732.85 L538.28 738.85 L538.97 746.45 L539.66 733.14 L540.35 739.19 L541.04 735.45 L541.73 744.52 L542.42 731.42 L543.11 733.81 L543.81 738.22 L544.50 736.42 L545.19 744.06 L545.88 741.88 L546.57 735.45 L547.26 727.55 L547.95 737.47 L548.64 735.95 L549.34 734.95 L550.03 742.34 L550.72 736.67 L551.41 739.19 L552.10 746.45 L552.79 733.22 L553.48 737.84 L554.17 734.36 L554.86 743.68 L555.56 731.21 L556.25 734.19 L556.94 739.90 L557.63 736.67 L558.32 741.58 L559.01 743.77 L559.70 741.04 L560.39 730.83 L561.08 740.45 L561.78 746.12 L562.47 737.84 L563.16 733.85 L563.85 731.59 L564.54 739.52 L565.23 737.84 L565.92 741.33 L566.61 745.61 L567.31 738.56 L568.00 731.59 L568.69 740.62 L569.38 738.31 L570.07 736.04 L570.76 736.92 L571.45 743.14 L572.14 741.20 L572.83 733.22 L573.53 738.10 L574.22 739.52 L574.91 737.97 L575.60 741.54 L576.29 738.01 L576.98 742.67 L577.67 732.80 L578.36 752.59 L579.05 739.65 L579.75 740.49 L580.44 728.98 L581.13 762.20 L581.82 735.53 L582.51 739.48 L583.20 737.55 L583.89 731.59 L584.58 743.26 L585.28 740.91 L585.97 736.37 L586.66 747.42 L587.35 733.60 L588.04 741.50 L588.73 738.73 L589.42 736.50 L590.11 736.84 L590.80 746.50 L591.50 738.60 L592.19 738.47 L592.88 738.35 L593.57 734.69 L594.26 741.67 L594.95 743.51 L595.64 741.12 L596.33 734.23 L597.02 739.69 L597.72 743.68 L598.41 737.13 L599.10 730.70 L599.79 740.36 L600.48 741.58 L601.17 731.59 L601.86 739.86 L602.55 742.51 L603.25 739.10 L603.94 736.84 L604.63 734.99 L605.32 749.98 L606.01 737.17 L606.70 722.51 L607.39 737.55 L608.08 744.10 L608.77 736.88 L609.47 734.06 L610.16 743.64 L610.85 744.61 L611.54 738.89 L612.23 738.68 L612.92 733.27 L613.61 738.22 L614.30 747.84 L614.99 743.22 L615.69 736.08 L616.38 737.72 L617.07 747.34 L617.76 740.24 L618.45 738.35 L619.14 736.46 L619.83 730.28 L620.52 741.83 L621.22 742.76 L621.91 736.29 L622.60 718.99 L623.29 736.88 L623.98 743.85 L624.67 738.73 L625.36 735.95 L626.05 737.42 L626.74 735.03 L627.44 728.10 L628.13 736.54 L628.82 741.83 L629.51 738.26 L630.20 736.25 L630.89 740.91 L631.58 737.68 L632.27 747.84 L632.96 744.40 L633.66 740.32 L634.35 732.47 L635.04 733.73 L635.73 736.46 L636.42 736.54 L637.11 735.70 L637.80 734.90 L638.49 753.47 L639.19 741.79 L639.88 738.22 L640.57 732.09 L641.26 735.79 L641.95 737.00 L642.64 732.89 L643.33 736.00 L644.02 741.46 L644.71 740.11 L645.41 737.89 L646.10 746.50 L646.79 740.53 L647.48 741.67 L648.17 732.68 L648.86 731.59 L649.55 738.81 L650.24 738.01 L650.93 737.89 L651.63 735.79 L652.32 736.29 L653.01 739.10 L653.70 738.64 L654.39 731.92 L655.08 738.14 L655.77 739.10 L656.46 730.20 L657.16 744.10 L657.85 736.84 L658.54 747.84 L659.23 745.57 L659.92 735.58 L660.61 731.50 L661.30 748.22 L661.99 737.97 L662.68 741.96 L663.38 732.76 L664.07 740.62 L664.76 740.99 L665.45 739.65 L666.14 746.50 L666.83 737.26 L667.52 736.42 L668.21 733.22 L668.90 737.89 L669.60 737.17 L670.29 739.02 L670.98 709.20 L671.67 738.39 L672.36 740.41 L673.05 732.51 L673.74 727.76 L674.43 736.46 L675.13 728.98 L675.82 741.88 L676.51 735.03 L677.20 739.06 L677.89 753.47 L678.58 743.01 L679.27 727.22 L679.96 735.74 L680.65 742.21" fill="none" stroke="#262626" stroke-width="1.1" stroke-linecap="round" stroke-linejoin="miter"/>
<text x="6.10" y="960.80" font-family="'Liberation Sans', sans-serif" font-size="22" textLength="28.10" lengthAdjust="spacingAndGlyphs" fill="#000" stroke="#fff" stroke-width="0.3">(d)</text>
<path d="M276.40 952.10 L309.20 952.10" fill="none" stroke="#111" stroke-width="1.6" stroke-linecap="round" stroke-linejoin="round"/>
<text x="312.50" y="956.80" font-family="'Liberation Sans', sans-serif" font-size="14.3" font-weight="bold" textLength="103.40" lengthAdjust="spacingAndGlyphs" fill="#000">LGBM Test Error</text>
<text x="154.40" y="976.80" font-family="'Liberation Sans', sans-serif" font-size="14.1" font-weight="bold" textLength="341.20" lengthAdjust="spacingAndGlyphs" fill="#000">RMSE=2.5963 MPa; MAE=2.0067 MPa; MAPE= 0.0788</text>
<line x1="42.00" y1="985.55" x2="662.80" y2="985.55" stroke="#D9D9D9" stroke-width="1"/>
<text x="27.80" y="990.25" font-family="'Liberation Sans', sans-serif" font-size="14" font-weight="bold" text-anchor="end" fill="#000">15</text>
<line x1="42.00" y1="1015.00" x2="662.80" y2="1015.00" stroke="#D9D9D9" stroke-width="1"/>
<text x="27.80" y="1019.70" font-family="'Liberation Sans', sans-serif" font-size="14" font-weight="bold" text-anchor="end" fill="#000">10</text>
<line x1="42.00" y1="1044.45" x2="662.80" y2="1044.45" stroke="#D9D9D9" stroke-width="1"/>
<text x="27.80" y="1049.15" font-family="'Liberation Sans', sans-serif" font-size="14" font-weight="bold" text-anchor="end" fill="#000">5</text>
<line x1="42.00" y1="1073.90" x2="662.80" y2="1073.90" stroke="#D9D9D9" stroke-width="1"/>
<text x="27.80" y="1078.60" font-family="'Liberation Sans', sans-serif" font-size="14" font-weight="bold" text-anchor="end" fill="#000">0</text>
<line x1="42.00" y1="1103.35" x2="662.80" y2="1103.35" stroke="#D9D9D9" stroke-width="1"/>
<text x="27.80" y="1108.05" font-family="'Liberation Sans', sans-serif" font-size="14" font-weight="bold" text-anchor="end" fill="#000">-5</text>
<line x1="42.00" y1="1132.80" x2="662.80" y2="1132.80" stroke="#D9D9D9" stroke-width="1"/>
<text x="27.80" y="1137.50" font-family="'Liberation Sans', sans-serif" font-size="14" font-weight="bold" text-anchor="end" fill="#000">-10</text>
<line x1="42.00" y1="1162.25" x2="662.80" y2="1162.25" stroke="#D9D9D9" stroke-width="1"/>
<text x="27.80" y="1166.95" font-family="'Liberation Sans', sans-serif" font-size="14" font-weight="bold" text-anchor="end" fill="#000">-15</text>
<line x1="42.00" y1="1073.90" x2="42.00" y2="1078.40" stroke="#D9D9D9" stroke-width="1"/>
<line x1="48.03" y1="1073.90" x2="48.03" y2="1078.40" stroke="#D9D9D9" stroke-width="1"/>
<line x1="54.05" y1="1073.90" x2="54.05" y2="1078.40" stroke="#D9D9D9" stroke-width="1"/>
<line x1="60.08" y1="1073.90" x2="60.08" y2="1078.40" stroke="#D9D9D9" stroke-width="1"/>
<line x1="66.11" y1="1073.90" x2="66.11" y2="1078.40" stroke="#D9D9D9" stroke-width="1"/>
<line x1="72.14" y1="1073.90" x2="72.14" y2="1078.40" stroke="#D9D9D9" stroke-width="1"/>
<line x1="78.16" y1="1073.90" x2="78.16" y2="1078.40" stroke="#D9D9D9" stroke-width="1"/>
<line x1="84.19" y1="1073.90" x2="84.19" y2="1078.40" stroke="#D9D9D9" stroke-width="1"/>
<line x1="90.22" y1="1073.90" x2="90.22" y2="1078.40" stroke="#D9D9D9" stroke-width="1"/>
<line x1="96.24" y1="1073.90" x2="96.24" y2="1078.40" stroke="#D9D9D9" stroke-width="1"/>
<line x1="102.27" y1="1073.90" x2="102.27" y2="1078.40" stroke="#D9D9D9" stroke-width="1"/>
<line x1="108.30" y1="1073.90" x2="108.30" y2="1078.40" stroke="#D9D9D9" stroke-width="1"/>
<line x1="114.33" y1="1073.90" x2="114.33" y2="1078.40" stroke="#D9D9D9" stroke-width="1"/>
<line x1="120.35" y1="1073.90" x2="120.35" y2="1078.40" stroke="#D9D9D9" stroke-width="1"/>
<line x1="126.38" y1="1073.90" x2="126.38" y2="1078.40" stroke="#D9D9D9" stroke-width="1"/>
<line x1="132.41" y1="1073.90" x2="132.41" y2="1078.40" stroke="#D9D9D9" stroke-width="1"/>
<line x1="138.43" y1="1073.90" x2="138.43" y2="1078.40" stroke="#D9D9D9" stroke-width="1"/>
<line x1="144.46" y1="1073.90" x2="144.46" y2="1078.40" stroke="#D9D9D9" stroke-width="1"/>
<line x1="150.49" y1="1073.90" x2="150.49" y2="1078.40" stroke="#D9D9D9" stroke-width="1"/>
<line x1="156.52" y1="1073.90" x2="156.52" y2="1078.40" stroke="#D9D9D9" stroke-width="1"/>
<line x1="162.54" y1="1073.90" x2="162.54" y2="1078.40" stroke="#D9D9D9" stroke-width="1"/>
<line x1="168.57" y1="1073.90" x2="168.57" y2="1078.40" stroke="#D9D9D9" stroke-width="1"/>
<line x1="174.60" y1="1073.90" x2="174.60" y2="1078.40" stroke="#D9D9D9" stroke-width="1"/>
<line x1="180.63" y1="1073.90" x2="180.63" y2="1078.40" stroke="#D9D9D9" stroke-width="1"/>
<line x1="186.65" y1="1073.90" x2="186.65" y2="1078.40" stroke="#D9D9D9" stroke-width="1"/>
<line x1="192.68" y1="1073.90" x2="192.68" y2="1078.40" stroke="#D9D9D9" stroke-width="1"/>
<line x1="198.71" y1="1073.90" x2="198.71" y2="1078.40" stroke="#D9D9D9" stroke-width="1"/>
<line x1="204.73" y1="1073.90" x2="204.73" y2="1078.40" stroke="#D9D9D9" stroke-width="1"/>
<line x1="210.76" y1="1073.90" x2="210.76" y2="1078.40" stroke="#D9D9D9" stroke-width="1"/>
<line x1="216.79" y1="1073.90" x2="216.79" y2="1078.40" stroke="#D9D9D9" stroke-width="1"/>
<line x1="222.82" y1="1073.90" x2="222.82" y2="1078.40" stroke="#D9D9D9" stroke-width="1"/>
<line x1="228.84" y1="1073.90" x2="228.84" y2="1078.40" stroke="#D9D9D9" stroke-width="1"/>
<line x1="234.87" y1="1073.90" x2="234.87" y2="1078.40" stroke="#D9D9D9" stroke-width="1"/>
<line x1="240.90" y1="1073.90" x2="240.90" y2="1078.40" stroke="#D9D9D9" stroke-width="1"/>
<line x1="246.92" y1="1073.90" x2="246.92" y2="1078.40" stroke="#D9D9D9" stroke-width="1"/>
<line x1="252.95" y1="1073.90" x2="252.95" y2="1078.40" stroke="#D9D9D9" stroke-width="1"/>
<line x1="258.98" y1="1073.90" x2="258.98" y2="1078.40" stroke="#D9D9D9" stroke-width="1"/>
<line x1="265.01" y1="1073.90" x2="265.01" y2="1078.40" stroke="#D9D9D9" stroke-width="1"/>
<line x1="271.03" y1="1073.90" x2="271.03" y2="1078.40" stroke="#D9D9D9" stroke-width="1"/>
<line x1="277.06" y1="1073.90" x2="277.06" y2="1078.40" stroke="#D9D9D9" stroke-width="1"/>
<line x1="283.09" y1="1073.90" x2="283.09" y2="1078.40" stroke="#D9D9D9" stroke-width="1"/>
<line x1="289.11" y1="1073.90" x2="289.11" y2="1078.40" stroke="#D9D9D9" stroke-width="1"/>
<line x1="295.14" y1="1073.90" x2="295.14" y2="1078.40" stroke="#D9D9D9" stroke-width="1"/>
<line x1="301.17" y1="1073.90" x2="301.17" y2="1078.40" stroke="#D9D9D9" stroke-width="1"/>
<line x1="307.20" y1="1073.90" x2="307.20" y2="1078.40" stroke="#D9D9D9" stroke-width="1"/>
<line x1="313.22" y1="1073.90" x2="313.22" y2="1078.40" stroke="#D9D9D9" stroke-width="1"/>
<line x1="319.25" y1="1073.90" x2="319.25" y2="1078.40" stroke="#D9D9D9" stroke-width="1"/>
<line x1="325.28" y1="1073.90" x2="325.28" y2="1078.40" stroke="#D9D9D9" stroke-width="1"/>
<line x1="331.30" y1="1073.90" x2="331.30" y2="1078.40" stroke="#D9D9D9" stroke-width="1"/>
<line x1="337.33" y1="1073.90" x2="337.33" y2="1078.40" stroke="#D9D9D9" stroke-width="1"/>
<line x1="343.36" y1="1073.90" x2="343.36" y2="1078.40" stroke="#D9D9D9" stroke-width="1"/>
<line x1="349.39" y1="1073.90" x2="349.39" y2="1078.40" stroke="#D9D9D9" stroke-width="1"/>
<line x1="355.41" y1="1073.90" x2="355.41" y2="1078.40" stroke="#D9D9D9" stroke-width="1"/>
<line x1="361.44" y1="1073.90" x2="361.44" y2="1078.40" stroke="#D9D9D9" stroke-width="1"/>
<line x1="367.47" y1="1073.90" x2="367.47" y2="1078.40" stroke="#D9D9D9" stroke-width="1"/>
<line x1="373.50" y1="1073.90" x2="373.50" y2="1078.40" stroke="#D9D9D9" stroke-width="1"/>
<line x1="379.52" y1="1073.90" x2="379.52" y2="1078.40" stroke="#D9D9D9" stroke-width="1"/>
<line x1="385.55" y1="1073.90" x2="385.55" y2="1078.40" stroke="#D9D9D9" stroke-width="1"/>
<line x1="391.58" y1="1073.90" x2="391.58" y2="1078.40" stroke="#D9D9D9" stroke-width="1"/>
<line x1="397.60" y1="1073.90" x2="397.60" y2="1078.40" stroke="#D9D9D9" stroke-width="1"/>
<line x1="403.63" y1="1073.90" x2="403.63" y2="1078.40" stroke="#D9D9D9" stroke-width="1"/>
<line x1="409.66" y1="1073.90" x2="409.66" y2="1078.40" stroke="#D9D9D9" stroke-width="1"/>
<line x1="415.69" y1="1073.90" x2="415.69" y2="1078.40" stroke="#D9D9D9" stroke-width="1"/>
<line x1="421.71" y1="1073.90" x2="421.71" y2="1078.40" stroke="#D9D9D9" stroke-width="1"/>
<line x1="427.74" y1="1073.90" x2="427.74" y2="1078.40" stroke="#D9D9D9" stroke-width="1"/>
<line x1="433.77" y1="1073.90" x2="433.77" y2="1078.40" stroke="#D9D9D9" stroke-width="1"/>
<line x1="439.79" y1="1073.90" x2="439.79" y2="1078.40" stroke="#D9D9D9" stroke-width="1"/>
<line x1="445.82" y1="1073.90" x2="445.82" y2="1078.40" stroke="#D9D9D9" stroke-width="1"/>
<line x1="451.85" y1="1073.90" x2="451.85" y2="1078.40" stroke="#D9D9D9" stroke-width="1"/>
<line x1="457.88" y1="1073.90" x2="457.88" y2="1078.40" stroke="#D9D9D9" stroke-width="1"/>
<line x1="463.90" y1="1073.90" x2="463.90" y2="1078.40" stroke="#D9D9D9" stroke-width="1"/>
<line x1="469.93" y1="1073.90" x2="469.93" y2="1078.40" stroke="#D9D9D9" stroke-width="1"/>
<line x1="475.96" y1="1073.90" x2="475.96" y2="1078.40" stroke="#D9D9D9" stroke-width="1"/>
<line x1="481.98" y1="1073.90" x2="481.98" y2="1078.40" stroke="#D9D9D9" stroke-width="1"/>
<line x1="488.01" y1="1073.90" x2="488.01" y2="1078.40" stroke="#D9D9D9" stroke-width="1"/>
<line x1="494.04" y1="1073.90" x2="494.04" y2="1078.40" stroke="#D9D9D9" stroke-width="1"/>
<line x1="500.07" y1="1073.90" x2="500.07" y2="1078.40" stroke="#D9D9D9" stroke-width="1"/>
<line x1="506.09" y1="1073.90" x2="506.09" y2="1078.40" stroke="#D9D9D9" stroke-width="1"/>
<line x1="512.12" y1="1073.90" x2="512.12" y2="1078.40" stroke="#D9D9D9" stroke-width="1"/>
<line x1="518.15" y1="1073.90" x2="518.15" y2="1078.40" stroke="#D9D9D9" stroke-width="1"/>
<line x1="524.17" y1="1073.90" x2="524.17" y2="1078.40" stroke="#D9D9D9" stroke-width="1"/>
<line x1="530.20" y1="1073.90" x2="530.20" y2="1078.40" stroke="#D9D9D9" stroke-width="1"/>
<line x1="536.23" y1="1073.90" x2="536.23" y2="1078.40" stroke="#D9D9D9" stroke-width="1"/>
<line x1="542.26" y1="1073.90" x2="542.26" y2="1078.40" stroke="#D9D9D9" stroke-width="1"/>
<line x1="548.28" y1="1073.90" x2="548.28" y2="1078.40" stroke="#D9D9D9" stroke-width="1"/>
<line x1="554.31" y1="1073.90" x2="554.31" y2="1078.40" stroke="#D9D9D9" stroke-width="1"/>
<line x1="560.34" y1="1073.90" x2="560.34" y2="1078.40" stroke="#D9D9D9" stroke-width="1"/>
<line x1="566.37" y1="1073.90" x2="566.37" y2="1078.40" stroke="#D9D9D9" stroke-width="1"/>
<line x1="572.39" y1="1073.90" x2="572.39" y2="1078.40" stroke="#D9D9D9" stroke-width="1"/>
<line x1="578.42" y1="1073.90" x2="578.42" y2="1078.40" stroke="#D9D9D9" stroke-width="1"/>
<line x1="584.45" y1="1073.90" x2="584.45" y2="1078.40" stroke="#D9D9D9" stroke-width="1"/>
<line x1="590.47" y1="1073.90" x2="590.47" y2="1078.40" stroke="#D9D9D9" stroke-width="1"/>
<line x1="596.50" y1="1073.90" x2="596.50" y2="1078.40" stroke="#D9D9D9" stroke-width="1"/>
<line x1="602.53" y1="1073.90" x2="602.53" y2="1078.40" stroke="#D9D9D9" stroke-width="1"/>
<line x1="608.56" y1="1073.90" x2="608.56" y2="1078.40" stroke="#D9D9D9" stroke-width="1"/>
<line x1="614.58" y1="1073.90" x2="614.58" y2="1078.40" stroke="#D9D9D9" stroke-width="1"/>
<line x1="620.61" y1="1073.90" x2="620.61" y2="1078.40" stroke="#D9D9D9" stroke-width="1"/>
<line x1="626.64" y1="1073.90" x2="626.64" y2="1078.40" stroke="#D9D9D9" stroke-width="1"/>
<line x1="632.66" y1="1073.90" x2="632.66" y2="1078.40" stroke="#D9D9D9" stroke-width="1"/>
<line x1="638.69" y1="1073.90" x2="638.69" y2="1078.40" stroke="#D9D9D9" stroke-width="1"/>
<line x1="644.72" y1="1073.90" x2="644.72" y2="1078.40" stroke="#D9D9D9" stroke-width="1"/>
<line x1="650.75" y1="1073.90" x2="650.75" y2="1078.40" stroke="#D9D9D9" stroke-width="1"/>
<line x1="656.77" y1="1073.90" x2="656.77" y2="1078.40" stroke="#D9D9D9" stroke-width="1"/>
<line x1="662.80" y1="1073.90" x2="662.80" y2="1078.40" stroke="#D9D9D9" stroke-width="1"/>
<text x="45.21" y="1187.10" font-family="'Liberation Sans', sans-serif" font-size="14" font-weight="bold" text-anchor="middle" fill="#000">1</text>
<text x="69.32" y="1187.10" font-family="'Liberation Sans', sans-serif" font-size="14" font-weight="bold" text-anchor="middle" fill="#000">5</text>
<text x="93.43" y="1187.10" font-family="'Liberation Sans', sans-serif" font-size="14" font-weight="bold" text-anchor="middle" fill="#000">9</text>
<text x="117.54" y="1187.10" font-family="'Liberation Sans', sans-serif" font-size="14" font-weight="bold" text-anchor="middle" fill="#000">13</text>
<text x="141.65" y="1187.10" font-family="'Liberation Sans', sans-serif" font-size="14" font-weight="bold" text-anchor="middle" fill="#000">17</text>
<text x="165.76" y="1187.10" font-family="'Liberation Sans', sans-serif" font-size="14" font-weight="bold" text-anchor="middle" fill="#000">21</text>
<text x="189.87" y="1187.10" font-family="'Liberation Sans', sans-serif" font-size="14" font-weight="bold" text-anchor="middle" fill="#000">25</text>
<text x="213.97" y="1187.10" font-family="'Liberation Sans', sans-serif" font-size="14" font-weight="bold" text-anchor="middle" fill="#000">29</text>
<text x="238.08" y="1187.10" font-family="'Liberation Sans', sans-serif" font-size="14" font-weight="bold" text-anchor="middle" fill="#000">33</text>
<text x="262.19" y="1187.10" font-family="'Liberation Sans', sans-serif" font-size="14" font-weight="bold" text-anchor="middle" fill="#000">37</text>
<text x="286.30" y="1187.10" font-family="'Liberation Sans', sans-serif" font-size="14" font-weight="bold" text-anchor="middle" fill="#000">41</text>
<text x="310.41" y="1187.10" font-family="'Liberation Sans', sans-serif" font-size="14" font-weight="bold" text-anchor="middle" fill="#000">45</text>
<text x="334.52" y="1187.10" font-family="'Liberation Sans', sans-serif" font-size="14" font-weight="bold" text-anchor="middle" fill="#000">49</text>
<text x="358.63" y="1187.10" font-family="'Liberation Sans', sans-serif" font-size="14" font-weight="bold" text-anchor="middle" fill="#000">53</text>
<text x="382.74" y="1187.10" font-family="'Liberation Sans', sans-serif" font-size="14" font-weight="bold" text-anchor="middle" fill="#000">57</text>
<text x="406.84" y="1187.10" font-family="'Liberation Sans', sans-serif" font-size="14" font-weight="bold" text-anchor="middle" fill="#000">61</text>
<text x="430.95" y="1187.10" font-family="'Liberation Sans', sans-serif" font-size="14" font-weight="bold" text-anchor="middle" fill="#000">65</text>
<text x="455.06" y="1187.10" font-family="'Liberation Sans', sans-serif" font-size="14" font-weight="bold" text-anchor="middle" fill="#000">69</text>
<text x="479.17" y="1187.10" font-family="'Liberation Sans', sans-serif" font-size="14" font-weight="bold" text-anchor="middle" fill="#000">73</text>
<text x="503.28" y="1187.10" font-family="'Liberation Sans', sans-serif" font-size="14" font-weight="bold" text-anchor="middle" fill="#000">77</text>
<text x="527.39" y="1187.10" font-family="'Liberation Sans', sans-serif" font-size="14" font-weight="bold" text-anchor="middle" fill="#000">81</text>
<text x="551.50" y="1187.10" font-family="'Liberation Sans', sans-serif" font-size="14" font-weight="bold" text-anchor="middle" fill="#000">85</text>
<text x="575.61" y="1187.10" font-family="'Liberation Sans', sans-serif" font-size="14" font-weight="bold" text-anchor="middle" fill="#000">89</text>
<text x="599.71" y="1187.10" font-family="'Liberation Sans', sans-serif" font-size="14" font-weight="bold" text-anchor="middle" fill="#000">93</text>
<text x="623.82" y="1187.10" font-family="'Liberation Sans', sans-serif" font-size="14" font-weight="bold" text-anchor="middle" fill="#000">97</text>
<text x="647.93" y="1187.10" font-family="'Liberation Sans', sans-serif" font-size="14" font-weight="bold" text-anchor="middle" fill="#000">101</text>
<text x="305.40" y="1207.20" font-family="'Liberation Sans', sans-serif" font-size="15.3" textLength="93.70" lengthAdjust="spacingAndGlyphs" fill="#000">Sample Index</text>
<path d="M45.01 1056.35 L51.04 1060.77 L57.07 1065.89 L63.10 1060.77 L69.12 1071.43 L75.15 1062.18 L81.18 1090.69 L87.20 1087.80 L93.23 1074.61 L99.26 1072.13 L105.29 1070.25 L111.31 1057.11 L117.34 1066.30 L123.37 1060.00 L129.39 1090.69 L135.42 1080.97 L141.45 1055.64 L147.48 1080.91 L153.50 1076.08 L159.53 1081.20 L165.56 1086.33 L171.58 1071.43 L177.61 1096.58 L183.64 1058.82 L189.67 1062.94 L195.69 1089.98 L201.72 1076.85 L207.75 1089.98 L213.77 1092.16 L219.80 1089.21 L225.83 1082.68 L231.86 1067.01 L237.88 1067.01 L243.91 1075.08 L249.94 1123.61 L255.97 1082.68 L261.99 1098.17 L268.02 1074.31 L274.05 1076.26 L280.07 1065.60 L286.10 1077.26 L292.13 1062.65 L298.16 1070.25 L304.18 1074.02 L310.21 1074.61 L316.24 1086.03 L322.26 1075.08 L328.29 1073.02 L334.32 1075.43 L340.35 1053.76 L346.37 1094.40 L352.40 1097.34 L358.43 1069.13 L364.45 1085.21 L370.48 1074.25 L376.51 1062.53 L382.54 1061.06 L388.56 1088.86 L394.59 1069.13 L400.62 1052.34 L406.64 1061.06 L412.67 1065.48 L418.70 1052.34 L424.73 1065.07 L430.75 1068.48 L436.78 1013.70 L442.81 1067.77 L448.83 1080.91 L454.86 1094.04 L460.89 1064.83 L466.92 1102.53 L472.94 1085.33 L478.97 1067.77 L485.00 1081.67 L491.03 1040.27 L497.05 1086.03 L503.08 1065.60 L509.11 1067.01 L515.13 1066.24 L521.16 1064.30 L527.19 1067.77 L533.22 1079.02 L539.24 1067.30 L545.27 1083.38 L551.30 1082.68 L557.32 1049.04 L563.35 1069.25 L569.38 1071.72 L575.41 1050.52 L581.43 1053.46 L587.46 1067.30 L593.49 1080.97 L599.51 1101.52 L605.54 1091.45 L611.57 1070.25 L617.60 1079.44 L623.62 1063.65 L629.65 1072.43 L635.68 1085.33 L641.70 1072.72 L647.73 1070.25 L653.76 1067.77 L659.79 1093.22" fill="none" stroke="#000" stroke-width="1.5" stroke-linecap="round" stroke-linejoin="miter"/>
</svg>
</body></html>
